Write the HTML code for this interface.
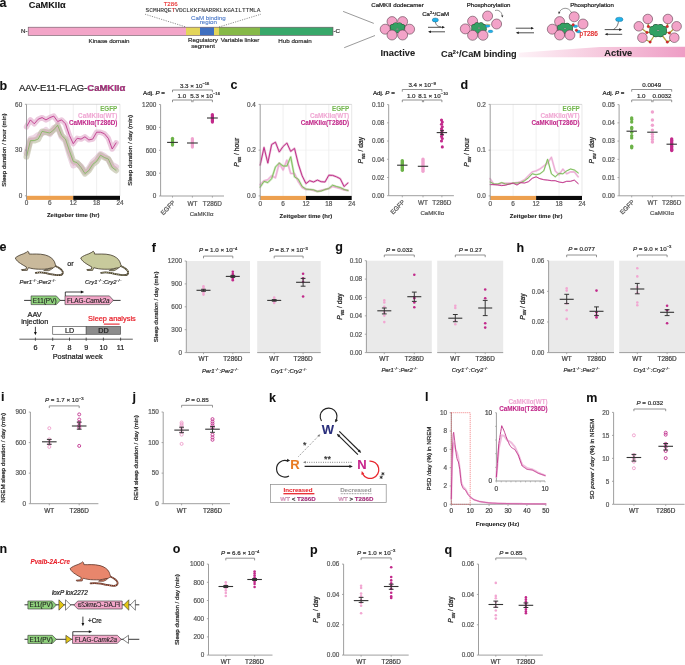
<!DOCTYPE html>
<html><head><meta charset="utf-8"><title>Figure</title>
<style>
html,body{margin:0;padding:0;background:#fff;}
body{width:685px;height:665px;overflow:hidden;}
svg{display:block;font-family:"Liberation Sans",sans-serif;will-change:transform;}
</style></head><body>
<svg width="685" height="665" viewBox="0 0 685 665">
<rect x="0" y="0" width="685" height="665" fill="#fff"/>
<text x="-0.60" y="6.80" font-size="12.5" font-weight="bold" fill="#111" stroke="#111" stroke-width="0.08">a</text>
<text x="28.80" y="7.60" font-size="9.2" font-weight="bold" fill="#111" stroke="#111" stroke-width="0.08">CaMKIIα</text>
<rect x="28.20" y="27.20" width="157.80" height="8.20" fill="#f3a5c8" stroke="none" stroke-width="0.8"/>
<rect x="186.00" y="27.20" width="14.00" height="8.20" fill="#e3d55a" stroke="none" stroke-width="0.8"/>
<rect x="200.00" y="27.20" width="14.00" height="8.20" fill="#3f6fc0" stroke="none" stroke-width="0.8"/>
<rect x="214.00" y="27.20" width="5.00" height="8.20" fill="#e3d55a" stroke="none" stroke-width="0.8"/>
<rect x="219.00" y="27.20" width="41.00" height="8.20" fill="#86b948" stroke="none" stroke-width="0.8"/>
<rect x="260.00" y="27.20" width="73.00" height="8.20" fill="#38a86a" stroke="none" stroke-width="0.8"/>
<rect x="28.20" y="27.20" width="304.80" height="8.20" fill="none" stroke="#6b5560" stroke-width="0.6"/>
<text x="27.60" y="33.30" font-size="6.2" text-anchor="end" fill="#333" stroke="#333" stroke-width="0.22">N-</text>
<text x="333.40" y="33.30" font-size="6.2" fill="#333" stroke="#333" stroke-width="0.22">-C</text>
<text x="109.00" y="42.60" font-size="6.2" text-anchor="middle" fill="#333" stroke="#333" stroke-width="0.22">Kinase domain</text>
<text x="203.00" y="42.00" font-size="6.2" text-anchor="middle" fill="#333" stroke="#333" stroke-width="0.22">Regulatory</text>
<text x="203.00" y="48.30" font-size="6.2" text-anchor="middle" fill="#333" stroke="#333" stroke-width="0.22">segment</text>
<text x="240.00" y="42.00" font-size="6.2" text-anchor="middle" fill="#333" stroke="#333" stroke-width="0.22">Variable linker</text>
<text x="295.00" y="42.60" font-size="6.2" text-anchor="middle" fill="#333" stroke="#333" stroke-width="0.22">Hub domain</text>
<g transform="translate(145.5,11.8) scale(1,0.86)">
<text x="0.00" y="0.00" font-size="6.2" font-family="Liberation Mono" fill="#333" stroke="#333" stroke-width="0.1">SCMHRQE<tspan fill="#e02020">T</tspan>VDCLKKFNARRKLKGAILTTMLA</text>
</g>
<text x="170.60" y="6.40" font-size="6.1" text-anchor="middle" fill="#e82828" stroke="#e82828" stroke-width="0.1">T286</text>
<text x="208.40" y="19.60" font-size="6.2" text-anchor="middle" fill="#4a78c8" stroke="#4a78c8" stroke-width="0.1">CaM binding</text>
<text x="208.40" y="24.40" font-size="6.2" text-anchor="middle" fill="#4a78c8" stroke="#4a78c8" stroke-width="0.1">region</text>
<line x1="145.00" y1="14.20" x2="186.00" y2="27.00" stroke="#444" stroke-width="0.6" stroke-dasharray="1.2 1.2"/>
<line x1="219.00" y1="27.00" x2="261.00" y2="14.20" stroke="#444" stroke-width="0.6" stroke-dasharray="1.2 1.2"/>
<line x1="343.10" y1="11.40" x2="373.80" y2="23.40" stroke="#555" stroke-width="0.6"/>
<line x1="344.20" y1="47.70" x2="375.00" y2="35.50" stroke="#555" stroke-width="0.6"/>
<defs><linearGradient id="wg" x1="0" x2="1" y1="0" y2="0"><stop offset="0" stop-color="#fdf2f7"/><stop offset="0.5" stop-color="#f6c8dd"/><stop offset="1" stop-color="#ee9dc5"/></linearGradient></defs>
<path d="M518.8,52.8 L600,47.0 L685,46.8 L685,57.2 L518.8,57.2 Z" fill="url(#wg)" stroke="none" stroke-width="0.8"/>
<text x="397.50" y="7.20" font-size="6.1" text-anchor="middle" fill="#222" stroke="#222" stroke-width="0.22">CaMKII dodecamer</text>
<text x="397.80" y="55.90" font-size="9.3" text-anchor="middle" font-weight="bold" fill="#222" stroke="#222" stroke-width="0.08">Inactive</text>
<text x="441.00" y="57.00" font-size="9.2" font-weight="bold" fill="#222" stroke="#222" stroke-width="0.08">Ca<tspan dy="-3" font-size="5.5">2+</tspan><tspan dy="3">/CaM binding</tspan></text>
<text x="618.30" y="55.90" font-size="9.3" text-anchor="middle" font-weight="bold" fill="#222" stroke="#222" stroke-width="0.08">Active</text>
<text x="488.60" y="7.00" font-size="6.1" text-anchor="middle" fill="#222" stroke="#222" stroke-width="0.22">Phosphorylation</text>
<text x="592.00" y="6.60" font-size="6.1" text-anchor="middle" fill="#222" stroke="#222" stroke-width="0.22">Phosphorylation</text>
<text x="422.20" y="16.00" font-size="6.1" fill="#222" stroke="#222" stroke-width="0.22">Ca<tspan dy="-2.2" font-size="4">2+</tspan><tspan dy="2.2">/CaM</tspan></text>
<text x="579.60" y="35.80" font-size="6.4" fill="#e02020" stroke="#e02020" stroke-width="0.22">pT286</text>
<line x1="428.00" y1="27.30" x2="443.80" y2="27.30" stroke="#222" stroke-width="0.8"/>
<path d="M445.00,27.30 L442.00,26.00 L442.00,28.60 Z" fill="#222" stroke="none" stroke-width="0.8"/>
<line x1="429.20" y1="31.80" x2="445.00" y2="31.80" stroke="#222" stroke-width="0.8"/>
<path d="M428.00,31.80 L431.00,30.50 L431.00,33.10 Z" fill="#222" stroke="none" stroke-width="0.8"/>
<line x1="515.80" y1="28.20" x2="532.80" y2="28.20" stroke="#222" stroke-width="0.8"/>
<path d="M534.00,28.20 L531.00,26.90 L531.00,29.50 Z" fill="#222" stroke="none" stroke-width="0.8"/>
<line x1="517.00" y1="32.80" x2="534.00" y2="32.80" stroke="#222" stroke-width="0.8"/>
<path d="M515.80,32.80 L518.80,31.50 L518.80,34.10 Z" fill="#222" stroke="none" stroke-width="0.8"/>
<line x1="604.70" y1="29.60" x2="621.00" y2="29.60" stroke="#222" stroke-width="0.8"/>
<path d="M622.20,29.60 L619.20,28.30 L619.20,30.90 Z" fill="#222" stroke="none" stroke-width="0.8"/>
<line x1="605.90" y1="34.30" x2="622.20" y2="34.30" stroke="#222" stroke-width="0.8"/>
<path d="M604.70,34.30 L607.70,33.00 L607.70,35.60 Z" fill="#222" stroke="none" stroke-width="0.8"/>
<ellipse cx="435.3" cy="20" rx="3.1" ry="2.0" fill="#1fb2ea" stroke="#155a80" stroke-width="0.4"/>
<path d="M435.5,22 C436,25 437,26.5 441,26.8" fill="none" stroke="#222" stroke-width="0.6"/>
<ellipse cx="619.3" cy="19.4" rx="3.7" ry="2.2" fill="#1fb2ea" stroke="#155a80" stroke-width="0.4"/>
<path d="M618.5,21.6 C618,25 616.5,28 613.5,29.4" fill="none" stroke="#222" stroke-width="0.6"/>
<circle cx="392.00" cy="21.60" r="5.00" fill="#f3a3c8" stroke="#4e3542" stroke-width="0.55"/>
<circle cx="402.60" cy="21.60" r="5.00" fill="#f3a3c8" stroke="#4e3542" stroke-width="0.55"/>
<ellipse cx="397.50" cy="28.00" rx="6.80" ry="4.60" fill="#2b4a35"/>
<ellipse cx="402.43" cy="29.20" rx="2.72" ry="2.72" fill="#2b4a35"/>
<ellipse cx="399.54" cy="30.89" rx="2.72" ry="2.72" fill="#2b4a35"/>
<ellipse cx="395.46" cy="30.89" rx="2.72" ry="2.72" fill="#2b4a35"/>
<ellipse cx="392.57" cy="29.20" rx="2.72" ry="2.72" fill="#2b4a35"/>
<ellipse cx="392.57" cy="26.80" rx="2.72" ry="2.72" fill="#2b4a35"/>
<ellipse cx="395.46" cy="25.11" rx="2.72" ry="2.72" fill="#2b4a35"/>
<ellipse cx="399.54" cy="25.11" rx="2.72" ry="2.72" fill="#2b4a35"/>
<ellipse cx="402.43" cy="26.80" rx="2.72" ry="2.72" fill="#2b4a35"/>
<ellipse cx="397.50" cy="28.00" rx="6.35" ry="4.15" fill="#33a063"/>
<ellipse cx="402.43" cy="29.20" rx="2.27" ry="2.27" fill="#33a063"/>
<ellipse cx="399.54" cy="30.89" rx="2.27" ry="2.27" fill="#33a063"/>
<ellipse cx="395.46" cy="30.89" rx="2.27" ry="2.27" fill="#33a063"/>
<ellipse cx="392.57" cy="29.20" rx="2.27" ry="2.27" fill="#33a063"/>
<ellipse cx="392.57" cy="26.80" rx="2.27" ry="2.27" fill="#33a063"/>
<ellipse cx="395.46" cy="25.11" rx="2.27" ry="2.27" fill="#33a063"/>
<ellipse cx="399.54" cy="25.11" rx="2.27" ry="2.27" fill="#33a063"/>
<ellipse cx="402.43" cy="26.80" rx="2.27" ry="2.27" fill="#33a063"/>
<circle cx="385.20" cy="29.20" r="5.00" fill="#f3a3c8" stroke="#4e3542" stroke-width="0.55"/>
<circle cx="409.60" cy="29.20" r="5.00" fill="#f3a3c8" stroke="#4e3542" stroke-width="0.55"/>
<circle cx="392.00" cy="35.00" r="5.00" fill="#f3a3c8" stroke="#4e3542" stroke-width="0.55"/>
<circle cx="402.60" cy="35.00" r="5.00" fill="#f3a3c8" stroke="#4e3542" stroke-width="0.55"/>
<ellipse cx="397.3" cy="29" rx="1.1" ry="0.6" fill="#bbb" stroke="#555" stroke-width="0.3"/>
<circle cx="472.60" cy="21.20" r="5.00" fill="#f3a3c8" stroke="#4e3542" stroke-width="0.55"/>
<ellipse cx="479.00" cy="28.00" rx="6.78" ry="4.68" fill="#2b4a35"/>
<ellipse cx="483.89" cy="29.22" rx="2.76" ry="2.76" fill="#2b4a35"/>
<ellipse cx="481.02" cy="30.95" rx="2.76" ry="2.76" fill="#2b4a35"/>
<ellipse cx="476.98" cy="30.95" rx="2.76" ry="2.76" fill="#2b4a35"/>
<ellipse cx="474.11" cy="29.22" rx="2.76" ry="2.76" fill="#2b4a35"/>
<ellipse cx="474.11" cy="26.78" rx="2.76" ry="2.76" fill="#2b4a35"/>
<ellipse cx="476.98" cy="25.05" rx="2.76" ry="2.76" fill="#2b4a35"/>
<ellipse cx="481.02" cy="25.05" rx="2.76" ry="2.76" fill="#2b4a35"/>
<ellipse cx="483.89" cy="26.78" rx="2.76" ry="2.76" fill="#2b4a35"/>
<ellipse cx="479.00" cy="28.00" rx="6.33" ry="4.23" fill="#33a063"/>
<ellipse cx="483.89" cy="29.22" rx="2.31" ry="2.31" fill="#33a063"/>
<ellipse cx="481.02" cy="30.95" rx="2.31" ry="2.31" fill="#33a063"/>
<ellipse cx="476.98" cy="30.95" rx="2.31" ry="2.31" fill="#33a063"/>
<ellipse cx="474.11" cy="29.22" rx="2.31" ry="2.31" fill="#33a063"/>
<ellipse cx="474.11" cy="26.78" rx="2.31" ry="2.31" fill="#33a063"/>
<ellipse cx="476.98" cy="25.05" rx="2.31" ry="2.31" fill="#33a063"/>
<ellipse cx="481.02" cy="25.05" rx="2.31" ry="2.31" fill="#33a063"/>
<ellipse cx="483.89" cy="26.78" rx="2.31" ry="2.31" fill="#33a063"/>
<ellipse cx="479" cy="28" rx="1.1" ry="0.6" fill="#bbb" stroke="#555" stroke-width="0.3"/>
<circle cx="465.30" cy="28.90" r="5.00" fill="#f3a3c8" stroke="#4e3542" stroke-width="0.55"/>
<circle cx="472.60" cy="35.30" r="5.00" fill="#f3a3c8" stroke="#4e3542" stroke-width="0.55"/>
<circle cx="483.00" cy="35.30" r="5.00" fill="#f3a3c8" stroke="#4e3542" stroke-width="0.55"/>
<circle cx="487.60" cy="16.00" r="5.00" fill="#f3a3c8" stroke="#4e3542" stroke-width="0.55"/>
<circle cx="496.60" cy="24.00" r="5.00" fill="#f3a3c8" stroke="#4e3542" stroke-width="0.55"/>
<ellipse cx="487.6" cy="26.0" rx="2.4" ry="1.3" fill="#1fb2ea" stroke="#155a80" stroke-width="0.3"/>
<ellipse cx="490.5" cy="31.4" rx="2.4" ry="1.3" fill="#1fb2ea" stroke="#155a80" stroke-width="0.3"/>
<line x1="486.00" y1="24.20" x2="490.50" y2="24.60" stroke="#b8a040" stroke-width="0.6"/>
<path d="M495,10.5 C499,9.5 502,12 502.3,16.6" fill="none" stroke="#333" stroke-width="0.5"/>
<path d="M502.3,17.6 L501.2,15.4 L503.4,15.6 Z" fill="#333" stroke="none" stroke-width="0.8"/>
<circle cx="559.60" cy="21.60" r="5.00" fill="#f3a3c8" stroke="#4e3542" stroke-width="0.55"/>
<ellipse cx="565.00" cy="28.50" rx="6.96" ry="4.76" fill="#2b4a35"/>
<ellipse cx="570.03" cy="29.74" rx="2.80" ry="2.80" fill="#2b4a35"/>
<ellipse cx="567.08" cy="31.50" rx="2.80" ry="2.80" fill="#2b4a35"/>
<ellipse cx="562.92" cy="31.50" rx="2.80" ry="2.80" fill="#2b4a35"/>
<ellipse cx="559.97" cy="29.74" rx="2.80" ry="2.80" fill="#2b4a35"/>
<ellipse cx="559.97" cy="27.26" rx="2.80" ry="2.80" fill="#2b4a35"/>
<ellipse cx="562.92" cy="25.50" rx="2.80" ry="2.80" fill="#2b4a35"/>
<ellipse cx="567.08" cy="25.50" rx="2.80" ry="2.80" fill="#2b4a35"/>
<ellipse cx="570.03" cy="27.26" rx="2.80" ry="2.80" fill="#2b4a35"/>
<ellipse cx="565.00" cy="28.50" rx="6.51" ry="4.31" fill="#33a063"/>
<ellipse cx="570.03" cy="29.74" rx="2.35" ry="2.35" fill="#33a063"/>
<ellipse cx="567.08" cy="31.50" rx="2.35" ry="2.35" fill="#33a063"/>
<ellipse cx="562.92" cy="31.50" rx="2.35" ry="2.35" fill="#33a063"/>
<ellipse cx="559.97" cy="29.74" rx="2.35" ry="2.35" fill="#33a063"/>
<ellipse cx="559.97" cy="27.26" rx="2.35" ry="2.35" fill="#33a063"/>
<ellipse cx="562.92" cy="25.50" rx="2.35" ry="2.35" fill="#33a063"/>
<ellipse cx="567.08" cy="25.50" rx="2.35" ry="2.35" fill="#33a063"/>
<ellipse cx="570.03" cy="27.26" rx="2.35" ry="2.35" fill="#33a063"/>
<ellipse cx="565" cy="28.5" rx="1.1" ry="0.6" fill="#bbb" stroke="#555" stroke-width="0.3"/>
<circle cx="552.30" cy="29.20" r="5.00" fill="#f3a3c8" stroke="#4e3542" stroke-width="0.55"/>
<circle cx="559.60" cy="35.00" r="5.00" fill="#f3a3c8" stroke="#4e3542" stroke-width="0.55"/>
<circle cx="569.90" cy="35.00" r="5.00" fill="#f3a3c8" stroke="#4e3542" stroke-width="0.55"/>
<circle cx="574.20" cy="16.80" r="5.00" fill="#f3a3c8" stroke="#4e3542" stroke-width="0.55"/>
<circle cx="583.00" cy="24.00" r="5.00" fill="#f3a3c8" stroke="#4e3542" stroke-width="0.55"/>
<ellipse cx="575.4" cy="26.2" rx="2.3" ry="1.3" fill="#1fb2ea" stroke="#155a80" stroke-width="0.3"/>
<ellipse cx="578.4" cy="31.6" rx="2.3" ry="1.3" fill="#1fb2ea" stroke="#155a80" stroke-width="0.3"/>
<circle cx="573.20" cy="24.80" r="1.25" fill="#e3262b" stroke="#7a1010" stroke-width="0.3"/>
<circle cx="576.40" cy="30.20" r="1.25" fill="#e3262b" stroke="#7a1010" stroke-width="0.3"/>
<path d="M571.5,12.8 C569,6.5 561,7 559,13" fill="none" stroke="#333" stroke-width="0.5"/>
<path d="M558.8,14.2 L558.2,11.6 L560.3,12.4 Z" fill="#333" stroke="none" stroke-width="0.8"/>
<line x1="647.80" y1="19.00" x2="648.30" y2="26.60" stroke="#b3a43c" stroke-width="1.3"/>
<line x1="648.30" y1="26.60" x2="652.00" y2="27.80" stroke="#b3a43c" stroke-width="1.3"/>
<line x1="638.80" y1="26.30" x2="646.90" y2="32.50" stroke="#b3a43c" stroke-width="1.3"/>
<line x1="646.90" y1="32.50" x2="650.60" y2="32.20" stroke="#b3a43c" stroke-width="1.3"/>
<line x1="642.40" y1="37.70" x2="650.10" y2="42.00" stroke="#b3a43c" stroke-width="1.3"/>
<line x1="650.10" y1="42.00" x2="654.00" y2="36.00" stroke="#b3a43c" stroke-width="1.3"/>
<line x1="667.90" y1="19.00" x2="667.30" y2="26.50" stroke="#b3a43c" stroke-width="1.3"/>
<line x1="667.30" y1="26.50" x2="664.20" y2="27.80" stroke="#b3a43c" stroke-width="1.3"/>
<line x1="676.60" y1="26.30" x2="669.40" y2="32.90" stroke="#b3a43c" stroke-width="1.3"/>
<line x1="669.40" y1="32.90" x2="665.80" y2="32.20" stroke="#b3a43c" stroke-width="1.3"/>
<line x1="674.30" y1="37.70" x2="667.30" y2="42.10" stroke="#b3a43c" stroke-width="1.3"/>
<line x1="667.30" y1="42.10" x2="662.60" y2="36.00" stroke="#b3a43c" stroke-width="1.3"/>
<circle cx="647.80" cy="19.00" r="4.80" fill="#f3a3c8" stroke="#4e3542" stroke-width="0.55"/>
<circle cx="638.80" cy="26.30" r="4.80" fill="#f3a3c8" stroke="#4e3542" stroke-width="0.55"/>
<circle cx="642.40" cy="37.70" r="4.80" fill="#f3a3c8" stroke="#4e3542" stroke-width="0.55"/>
<circle cx="667.90" cy="19.00" r="4.80" fill="#f3a3c8" stroke="#4e3542" stroke-width="0.55"/>
<circle cx="676.60" cy="26.30" r="4.80" fill="#f3a3c8" stroke="#4e3542" stroke-width="0.55"/>
<circle cx="674.30" cy="37.70" r="4.80" fill="#f3a3c8" stroke="#4e3542" stroke-width="0.55"/>
<ellipse cx="658.10" cy="30.60" rx="7.65" ry="5.45" fill="#2b4a35"/>
<ellipse cx="663.62" cy="32.04" rx="3.18" ry="3.18" fill="#2b4a35"/>
<ellipse cx="660.38" cy="34.08" rx="3.18" ry="3.18" fill="#2b4a35"/>
<ellipse cx="655.82" cy="34.08" rx="3.18" ry="3.18" fill="#2b4a35"/>
<ellipse cx="652.58" cy="32.04" rx="3.18" ry="3.18" fill="#2b4a35"/>
<ellipse cx="652.58" cy="29.16" rx="3.18" ry="3.18" fill="#2b4a35"/>
<ellipse cx="655.82" cy="27.12" rx="3.18" ry="3.18" fill="#2b4a35"/>
<ellipse cx="660.38" cy="27.12" rx="3.18" ry="3.18" fill="#2b4a35"/>
<ellipse cx="663.62" cy="29.16" rx="3.18" ry="3.18" fill="#2b4a35"/>
<ellipse cx="658.10" cy="30.60" rx="7.20" ry="5.00" fill="#33a063"/>
<ellipse cx="663.62" cy="32.04" rx="2.73" ry="2.73" fill="#33a063"/>
<ellipse cx="660.38" cy="34.08" rx="2.73" ry="2.73" fill="#33a063"/>
<ellipse cx="655.82" cy="34.08" rx="2.73" ry="2.73" fill="#33a063"/>
<ellipse cx="652.58" cy="32.04" rx="2.73" ry="2.73" fill="#33a063"/>
<ellipse cx="652.58" cy="29.16" rx="2.73" ry="2.73" fill="#33a063"/>
<ellipse cx="655.82" cy="27.12" rx="2.73" ry="2.73" fill="#33a063"/>
<ellipse cx="660.38" cy="27.12" rx="2.73" ry="2.73" fill="#33a063"/>
<ellipse cx="663.62" cy="29.16" rx="2.73" ry="2.73" fill="#33a063"/>
<ellipse cx="658.1" cy="30.5" rx="1.2" ry="0.6" fill="#bbb" stroke="#555" stroke-width="0.3"/>
<circle cx="648.30" cy="26.60" r="1.25" fill="#e3262b" stroke="#7a1010" stroke-width="0.3"/>
<circle cx="646.90" cy="32.50" r="1.25" fill="#e3262b" stroke="#7a1010" stroke-width="0.3"/>
<circle cx="650.10" cy="42.00" r="1.25" fill="#e3262b" stroke="#7a1010" stroke-width="0.3"/>
<circle cx="667.30" cy="26.50" r="1.25" fill="#e3262b" stroke="#7a1010" stroke-width="0.3"/>
<circle cx="669.40" cy="32.90" r="1.25" fill="#e3262b" stroke="#7a1010" stroke-width="0.3"/>
<circle cx="667.30" cy="42.10" r="1.25" fill="#e3262b" stroke="#7a1010" stroke-width="0.3"/>
<text x="-0.40" y="89.60" font-size="12.5" font-weight="bold" fill="#111" stroke="#111" stroke-width="0.08">b</text>
<text x="19.00" y="90.80" font-size="9.5" fill="#222" stroke="#222" stroke-width="0.22">AAV-E11-FLAG-<tspan font-weight="bold" fill="#c22a8b">CaMKIIα</tspan></text>
<line x1="49.88" y1="104.30" x2="49.88" y2="195.80" stroke="#e4e4e4" stroke-width="0.6"/>
<line x1="73.25" y1="104.30" x2="73.25" y2="195.80" stroke="#e4e4e4" stroke-width="0.6"/>
<line x1="96.62" y1="104.30" x2="96.62" y2="195.80" stroke="#e4e4e4" stroke-width="0.6"/>
<line x1="120.00" y1="104.30" x2="120.00" y2="195.80" stroke="#d8d8d8" stroke-width="0.6"/>
<line x1="26.50" y1="104.30" x2="120.00" y2="104.30" stroke="#bdbdbd" stroke-width="0.6"/>
<line x1="26.50" y1="150.05" x2="120.00" y2="150.05" stroke="#ececec" stroke-width="0.6"/>
<polyline points="26.50,153.00 30.40,139.00 34.29,138.00 38.19,135.00 42.08,133.50 45.98,130.00 49.88,134.00 53.77,128.00 57.67,127.00 61.56,137.00 65.46,141.00 69.35,154.00 73.25,165.50 77.15,163.50 81.04,166.50 84.94,172.00 88.83,168.50 92.73,162.00 96.62,158.50 100.52,154.00 104.42,156.00 108.31,159.50 112.21,165.00 116.10,167.00" fill="none" stroke="#dcb4cc" stroke-width="6.0" stroke-linejoin="round" stroke-linecap="round" stroke-opacity="0.55"/>
<polyline points="26.50,156.70 30.40,140.60 34.29,140.60 38.19,139.10 42.08,131.40 45.98,132.20 49.88,133.00 53.77,129.90 57.67,125.30 61.56,135.30 65.46,139.10 69.35,150.60 73.25,161.30 77.15,162.80 81.04,167.40 84.94,173.60 88.83,170.50 92.73,164.40 96.62,161.30 100.52,155.20 104.42,157.50 108.31,159.00 112.21,167.40 116.10,170.50" fill="none" stroke="#b3b394" stroke-width="6.0" stroke-linejoin="round" stroke-linecap="round" stroke-opacity="0.55"/>
<polyline points="26.50,126.80 30.40,119.90 34.29,123.80 38.19,119.20 42.08,117.60 45.98,119.90 49.88,117.60 53.77,116.10 57.67,121.50 61.56,119.90 65.46,123.80 69.35,135.30 73.25,143.70 77.15,138.30 81.04,139.10 84.94,136.80 88.83,139.90 92.73,139.10 96.62,132.20 100.52,132.20 104.42,133.70 108.31,138.30 112.21,149.00 116.10,142.90" fill="none" stroke="#dc9cc3" stroke-width="5.4" stroke-linejoin="round" stroke-linecap="round" stroke-opacity="0.55"/>
<polyline points="26.50,153.00 30.40,139.00 34.29,138.00 38.19,135.00 42.08,133.50 45.98,130.00 49.88,134.00 53.77,128.00 57.67,127.00 61.56,137.00 65.46,141.00 69.35,154.00 73.25,165.50 77.15,163.50 81.04,166.50 84.94,172.00 88.83,168.50 92.73,162.00 96.62,158.50 100.52,154.00 104.42,156.00 108.31,159.50 112.21,165.00 116.10,167.00" fill="none" stroke="#e9a6cf" stroke-width="0.7" stroke-linejoin="round" stroke-linecap="round"/>
<polyline points="26.50,156.70 30.40,140.60 34.29,140.60 38.19,139.10 42.08,131.40 45.98,132.20 49.88,133.00 53.77,129.90 57.67,125.30 61.56,135.30 65.46,139.10 69.35,150.60 73.25,161.30 77.15,162.80 81.04,167.40 84.94,173.60 88.83,170.50 92.73,164.40 96.62,161.30 100.52,155.20 104.42,157.50 108.31,159.00 112.21,167.40 116.10,170.50" fill="none" stroke="#72b84e" stroke-width="0.7" stroke-linejoin="round" stroke-linecap="round"/>
<polyline points="26.50,126.80 30.40,119.90 34.29,123.80 38.19,119.20 42.08,117.60 45.98,119.90 49.88,117.60 53.77,116.10 57.67,121.50 61.56,119.90 65.46,123.80 69.35,135.30 73.25,143.70 77.15,138.30 81.04,139.10 84.94,136.80 88.83,139.90 92.73,139.10 96.62,132.20 100.52,132.20 104.42,133.70 108.31,138.30 112.21,149.00 116.10,142.90" fill="none" stroke="#c0388c" stroke-width="0.9" stroke-linejoin="round" stroke-linecap="round"/>
<rect x="26.50" y="195.80" width="46.75" height="4.10" fill="#eda04f" stroke="none" stroke-width="0.8"/>
<rect x="73.25" y="195.80" width="46.75" height="4.10" fill="#0a0a0a" stroke="none" stroke-width="0.8"/>
<line x1="26.50" y1="104.30" x2="26.50" y2="199.90" stroke="#949494" stroke-width="0.9"/>
<line x1="24.90" y1="104.30" x2="26.50" y2="104.30" stroke="#949494" stroke-width="0.8"/>
<text x="22.20" y="106.60" font-size="6.4" text-anchor="end" fill="#5a5a5a" stroke="#5a5a5a" stroke-width="0.22">60</text>
<line x1="24.90" y1="150.05" x2="26.50" y2="150.05" stroke="#949494" stroke-width="0.8"/>
<text x="22.20" y="152.35" font-size="6.4" text-anchor="end" fill="#5a5a5a" stroke="#5a5a5a" stroke-width="0.22">30</text>
<line x1="24.90" y1="195.80" x2="26.50" y2="195.80" stroke="#949494" stroke-width="0.8"/>
<text x="22.20" y="198.10" font-size="6.4" text-anchor="end" fill="#5a5a5a" stroke="#5a5a5a" stroke-width="0.22">0</text>
<text x="26.50" y="205.40" font-size="6.4" text-anchor="middle" fill="#5a5a5a" stroke="#5a5a5a" stroke-width="0.22">0</text>
<text x="49.88" y="205.40" font-size="6.4" text-anchor="middle" fill="#5a5a5a" stroke="#5a5a5a" stroke-width="0.22">6</text>
<text x="73.25" y="205.40" font-size="6.4" text-anchor="middle" fill="#5a5a5a" stroke="#5a5a5a" stroke-width="0.22">12</text>
<text x="96.62" y="205.40" font-size="6.4" text-anchor="middle" fill="#5a5a5a" stroke="#5a5a5a" stroke-width="0.22">18</text>
<text x="120.00" y="205.40" font-size="6.4" text-anchor="middle" fill="#5a5a5a" stroke="#5a5a5a" stroke-width="0.22">24</text>
<text x="73.25" y="217.40" font-size="6.0" text-anchor="middle" font-weight="bold" fill="#222" stroke="#222" stroke-width="0.08">Zeitgeber time (hr)</text>
<text x="117.30" y="110.70" font-size="6.3" text-anchor="end" font-weight="bold" fill="#76b852" stroke="#76b852" stroke-width="0.08">EGFP</text>
<text x="117.30" y="117.65" font-size="6.3" text-anchor="end" font-weight="bold" fill="#f0a8d4" stroke="#f0a8d4" stroke-width="0.08">CaMKIIα(WT)</text>
<text x="117.30" y="124.60" font-size="6.3" text-anchor="end" font-weight="bold" fill="#c22a8b" stroke="#c22a8b" stroke-width="0.08">CaMKIIα(T286D)</text>
<text x="6.00" y="150.00" font-size="6.2" text-anchor="middle" fill="#222" transform="rotate(-90 6.00 150.00)" stroke="#222" stroke-width="0.22">Sleep duration / hour (min)</text>
<line x1="160.60" y1="104.50" x2="160.60" y2="196.00" stroke="#949494" stroke-width="0.9"/>
<line x1="159.00" y1="104.50" x2="160.60" y2="104.50" stroke="#949494" stroke-width="0.8"/>
<text x="156.30" y="106.80" font-size="6.4" text-anchor="end" fill="#5a5a5a" stroke="#5a5a5a" stroke-width="0.22">1200</text>
<line x1="159.00" y1="127.40" x2="160.60" y2="127.40" stroke="#949494" stroke-width="0.8"/>
<text x="156.30" y="129.70" font-size="6.4" text-anchor="end" fill="#5a5a5a" stroke="#5a5a5a" stroke-width="0.22">900</text>
<line x1="159.00" y1="150.30" x2="160.60" y2="150.30" stroke="#949494" stroke-width="0.8"/>
<text x="156.30" y="152.60" font-size="6.4" text-anchor="end" fill="#5a5a5a" stroke="#5a5a5a" stroke-width="0.22">600</text>
<line x1="159.00" y1="173.20" x2="160.60" y2="173.20" stroke="#949494" stroke-width="0.8"/>
<text x="156.30" y="175.50" font-size="6.4" text-anchor="end" fill="#5a5a5a" stroke="#5a5a5a" stroke-width="0.22">300</text>
<line x1="159.00" y1="196.00" x2="160.60" y2="196.00" stroke="#949494" stroke-width="0.8"/>
<text x="156.30" y="198.30" font-size="6.4" text-anchor="end" fill="#5a5a5a" stroke="#5a5a5a" stroke-width="0.22">0</text>
<line x1="160.60" y1="196.00" x2="224.00" y2="196.00" stroke="#949494" stroke-width="0.9"/>
<line x1="172.50" y1="196.00" x2="172.50" y2="197.60" stroke="#949494" stroke-width="0.8"/>
<line x1="192.40" y1="196.00" x2="192.40" y2="197.60" stroke="#949494" stroke-width="0.8"/>
<line x1="212.40" y1="196.00" x2="212.40" y2="197.60" stroke="#949494" stroke-width="0.8"/>
<rect x="170.90" y="136.70" width="3.20" height="10.00" fill="#6cb248" stroke="none" stroke-width="0.8" rx="1.60"/>
<rect x="190.80" y="137.00" width="3.20" height="11.70" fill="#f0a3cf" stroke="none" stroke-width="0.8" rx="1.60"/>
<rect x="210.80" y="113.00" width="3.20" height="10.70" fill="#c22a8b" stroke="none" stroke-width="0.8" rx="1.60"/>
<line x1="167.10" y1="142.40" x2="177.90" y2="142.40" stroke="#333" stroke-width="1.1"/>
<line x1="187.00" y1="143.00" x2="197.80" y2="143.00" stroke="#333" stroke-width="1.1"/>
<line x1="207.00" y1="118.00" x2="217.80" y2="118.00" stroke="#333" stroke-width="1.1"/>
<text x="143.10" y="94.90" font-size="6.2" fill="#222" stroke="#222" stroke-width="0.22">Adj. <tspan font-style="italic">P</tspan> =</text>
<path d="M172.50,92.20 L172.50,90.00 L212.40,90.00 L212.40,92.20" fill="none" stroke="#777" stroke-width="0.8"/>
<text x="194.60" y="87.70" font-size="6.2" text-anchor="middle" fill="#333" stroke="#333" stroke-width="0.22">3.3 × 10<tspan dy="-2.3" font-size="4.0">−16</tspan></text>
<path d="M172.50,102.20 L172.50,100.00 L191.80,100.00 L191.80,102.20" fill="none" stroke="#777" stroke-width="0.8"/>
<text x="181.80" y="97.60" font-size="6.2" text-anchor="middle" fill="#333" stroke="#333" stroke-width="0.22">1.0</text>
<path d="M193.00,102.20 L193.00,100.00 L212.40,100.00 L212.40,102.20" fill="none" stroke="#777" stroke-width="0.8"/>
<text x="205.20" y="97.60" font-size="6.2" text-anchor="middle" fill="#333" stroke="#333" stroke-width="0.22">5.3 × 10<tspan dy="-2.3" font-size="4.2">−16</tspan></text>
<text x="175.50" y="203.10" font-size="6.4" text-anchor="end" fill="#555" transform="rotate(-45 175.50 203.10)" stroke="#555" stroke-width="0.22">EGFP</text>
<text x="192.40" y="205.80" font-size="6.4" text-anchor="middle" fill="#555" stroke="#555" stroke-width="0.22">WT</text>
<text x="212.40" y="205.80" font-size="6.4" text-anchor="middle" fill="#555" stroke="#555" stroke-width="0.22">T286D</text>
<text x="201.60" y="215.70" font-size="6.1" text-anchor="middle" fill="#555" stroke="#555" stroke-width="0.22">CaMKIIα</text>
<text x="132.00" y="150.30" font-size="6.2" text-anchor="middle" fill="#222" transform="rotate(-90 132.00 150.30)" stroke="#222" stroke-width="0.22">Sleep duration / day (min)</text>
<text x="230.60" y="88.80" font-size="12.5" font-weight="bold" fill="#111" stroke="#111" stroke-width="0.08">c</text>
<line x1="283.07" y1="104.40" x2="283.07" y2="195.90" stroke="#e4e4e4" stroke-width="0.6"/>
<line x1="305.95" y1="104.40" x2="305.95" y2="195.90" stroke="#e4e4e4" stroke-width="0.6"/>
<line x1="328.82" y1="104.40" x2="328.82" y2="195.90" stroke="#e4e4e4" stroke-width="0.6"/>
<line x1="351.70" y1="104.40" x2="351.70" y2="195.90" stroke="#d8d8d8" stroke-width="0.6"/>
<line x1="260.20" y1="104.40" x2="351.70" y2="104.40" stroke="#bdbdbd" stroke-width="0.6"/>
<line x1="260.20" y1="150.15" x2="351.70" y2="150.15" stroke="#ececec" stroke-width="0.6"/>
<polyline points="260.20,184.60 264.01,180.70 267.82,179.70 271.64,175.80 275.45,177.80 279.26,163.10 283.07,170.00 286.89,160.20 290.70,173.50 294.51,173.50 298.32,181.70 302.14,187.50 305.95,189.50 309.76,189.50 313.57,190.40 317.39,191.40 321.20,190.40 325.01,189.50 328.82,188.50 332.64,186.50 336.45,187.50 340.26,188.50 344.07,189.90 347.89,190.40" fill="none" stroke="#eaa2cf" stroke-width="2.2" stroke-linejoin="round" stroke-linecap="round" stroke-opacity="0.55"/>
<polyline points="260.20,187.10 264.01,181.30 267.82,182.60 271.64,178.70 275.45,167.00 279.26,163.10 283.07,166.00 286.89,166.00 290.70,156.80 294.51,176.80 298.32,179.30 302.14,186.50 305.95,189.10 309.76,189.50 313.57,189.90 317.39,191.40 321.20,191.00 325.01,189.50 328.82,188.50 332.64,185.20 336.45,186.50 340.26,187.50 344.07,189.50 347.89,190.50" fill="none" stroke="#a8d08a" stroke-width="2.2" stroke-linejoin="round" stroke-linecap="round" stroke-opacity="0.55"/>
<polyline points="260.20,165.00 264.01,147.40 267.82,163.10 271.64,144.50 275.45,142.20 279.26,152.00 283.07,146.50 286.89,143.00 290.70,151.40 294.51,148.40 298.32,164.10 302.14,175.80 305.95,183.60 309.76,180.70 313.57,182.00 317.39,180.10 321.20,181.70 325.01,182.00 328.82,175.20 332.64,175.40 336.45,176.80 340.26,178.70 344.07,186.50 347.89,183.00" fill="none" stroke="#d98ab8" stroke-width="2.2" stroke-linejoin="round" stroke-linecap="round" stroke-opacity="0.55"/>
<polyline points="260.20,184.60 264.01,180.70 267.82,179.70 271.64,175.80 275.45,177.80 279.26,163.10 283.07,170.00 286.89,160.20 290.70,173.50 294.51,173.50 298.32,181.70 302.14,187.50 305.95,189.50 309.76,189.50 313.57,190.40 317.39,191.40 321.20,190.40 325.01,189.50 328.82,188.50 332.64,186.50 336.45,187.50 340.26,188.50 344.07,189.90 347.89,190.40" fill="none" stroke="#eaa2cf" stroke-width="0.8" stroke-linejoin="round" stroke-linecap="round"/>
<polyline points="260.20,187.10 264.01,181.30 267.82,182.60 271.64,178.70 275.45,167.00 279.26,163.10 283.07,166.00 286.89,166.00 290.70,156.80 294.51,176.80 298.32,179.30 302.14,186.50 305.95,189.10 309.76,189.50 313.57,189.90 317.39,191.40 321.20,191.00 325.01,189.50 328.82,188.50 332.64,185.20 336.45,186.50 340.26,187.50 344.07,189.50 347.89,190.50" fill="none" stroke="#6fb84a" stroke-width="0.8" stroke-linejoin="round" stroke-linecap="round"/>
<polyline points="260.20,165.00 264.01,147.40 267.82,163.10 271.64,144.50 275.45,142.20 279.26,152.00 283.07,146.50 286.89,143.00 290.70,151.40 294.51,148.40 298.32,164.10 302.14,175.80 305.95,183.60 309.76,180.70 313.57,182.00 317.39,180.10 321.20,181.70 325.01,182.00 328.82,175.20 332.64,175.40 336.45,176.80 340.26,178.70 344.07,186.50 347.89,183.00" fill="none" stroke="#c0328a" stroke-width="1.0" stroke-linejoin="round" stroke-linecap="round"/>
<rect x="260.20" y="195.90" width="45.75" height="4.10" fill="#eda04f" stroke="none" stroke-width="0.8"/>
<rect x="305.95" y="195.90" width="45.75" height="4.10" fill="#0a0a0a" stroke="none" stroke-width="0.8"/>
<line x1="260.20" y1="104.40" x2="260.20" y2="200.00" stroke="#949494" stroke-width="0.9"/>
<line x1="258.60" y1="104.40" x2="260.20" y2="104.40" stroke="#949494" stroke-width="0.8"/>
<text x="255.90" y="106.70" font-size="6.4" text-anchor="end" fill="#5a5a5a" stroke="#5a5a5a" stroke-width="0.22">0.4</text>
<line x1="258.60" y1="150.15" x2="260.20" y2="150.15" stroke="#949494" stroke-width="0.8"/>
<text x="255.90" y="152.45" font-size="6.4" text-anchor="end" fill="#5a5a5a" stroke="#5a5a5a" stroke-width="0.22">0.2</text>
<line x1="258.60" y1="195.90" x2="260.20" y2="195.90" stroke="#949494" stroke-width="0.8"/>
<text x="255.90" y="198.20" font-size="6.4" text-anchor="end" fill="#5a5a5a" stroke="#5a5a5a" stroke-width="0.22">0.0</text>
<text x="260.20" y="205.50" font-size="6.4" text-anchor="middle" fill="#5a5a5a" stroke="#5a5a5a" stroke-width="0.22">0</text>
<text x="283.07" y="205.50" font-size="6.4" text-anchor="middle" fill="#5a5a5a" stroke="#5a5a5a" stroke-width="0.22">6</text>
<text x="305.95" y="205.50" font-size="6.4" text-anchor="middle" fill="#5a5a5a" stroke="#5a5a5a" stroke-width="0.22">12</text>
<text x="328.82" y="205.50" font-size="6.4" text-anchor="middle" fill="#5a5a5a" stroke="#5a5a5a" stroke-width="0.22">18</text>
<text x="351.70" y="205.50" font-size="6.4" text-anchor="middle" fill="#5a5a5a" stroke="#5a5a5a" stroke-width="0.22">24</text>
<text x="305.95" y="217.50" font-size="6.0" text-anchor="middle" font-weight="bold" fill="#222" stroke="#222" stroke-width="0.08">Zeitgeber time (hr)</text>
<text x="349.10" y="110.90" font-size="6.3" text-anchor="end" font-weight="bold" fill="#76b852" stroke="#76b852" stroke-width="0.08">EGFP</text>
<text x="349.10" y="117.85" font-size="6.3" text-anchor="end" font-weight="bold" fill="#f0a8d4" stroke="#f0a8d4" stroke-width="0.08">CaMKIIα(WT)</text>
<text x="349.10" y="124.80" font-size="6.3" text-anchor="end" font-weight="bold" fill="#c22a8b" stroke="#c22a8b" stroke-width="0.08">CaMKIIα(T286D)</text>
<text x="239.40" y="152.30" font-size="6.7" text-anchor="middle" fill="#222" transform="rotate(-90 239.40 152.30)" stroke="#222" stroke-width="0.22"><tspan font-style="italic">P</tspan><tspan font-size="4.6" dy="1.6">ws</tspan><tspan dy="-1.6"> / hour</tspan></text>
<line x1="388.70" y1="104.60" x2="388.70" y2="195.70" stroke="#949494" stroke-width="0.9"/>
<line x1="387.10" y1="104.60" x2="388.70" y2="104.60" stroke="#949494" stroke-width="0.8"/>
<text x="384.40" y="106.90" font-size="6.4" text-anchor="end" fill="#5a5a5a" stroke="#5a5a5a" stroke-width="0.22">0.10</text>
<line x1="387.10" y1="122.82" x2="388.70" y2="122.82" stroke="#949494" stroke-width="0.8"/>
<text x="384.40" y="125.12" font-size="6.4" text-anchor="end" fill="#5a5a5a" stroke="#5a5a5a" stroke-width="0.22">0.08</text>
<line x1="387.10" y1="141.04" x2="388.70" y2="141.04" stroke="#949494" stroke-width="0.8"/>
<text x="384.40" y="143.34" font-size="6.4" text-anchor="end" fill="#5a5a5a" stroke="#5a5a5a" stroke-width="0.22">0.06</text>
<line x1="387.10" y1="159.26" x2="388.70" y2="159.26" stroke="#949494" stroke-width="0.8"/>
<text x="384.40" y="161.56" font-size="6.4" text-anchor="end" fill="#5a5a5a" stroke="#5a5a5a" stroke-width="0.22">0.04</text>
<line x1="387.10" y1="177.48" x2="388.70" y2="177.48" stroke="#949494" stroke-width="0.8"/>
<text x="384.40" y="179.78" font-size="6.4" text-anchor="end" fill="#5a5a5a" stroke="#5a5a5a" stroke-width="0.22">0.02</text>
<line x1="387.10" y1="195.70" x2="388.70" y2="195.70" stroke="#949494" stroke-width="0.8"/>
<text x="384.40" y="198.00" font-size="6.4" text-anchor="end" fill="#5a5a5a" stroke="#5a5a5a" stroke-width="0.22">0.00</text>
<line x1="388.70" y1="195.70" x2="453.90" y2="195.70" stroke="#949494" stroke-width="0.9"/>
<line x1="402.30" y1="195.70" x2="402.30" y2="197.30" stroke="#949494" stroke-width="0.8"/>
<line x1="423.00" y1="195.70" x2="423.00" y2="197.30" stroke="#949494" stroke-width="0.8"/>
<line x1="441.90" y1="195.70" x2="441.90" y2="197.30" stroke="#949494" stroke-width="0.8"/>
<rect x="400.60" y="158.90" width="3.40" height="13.10" fill="#6cb248" stroke="none" stroke-width="0.8" rx="1.70"/>
<rect x="421.30" y="157.40" width="3.40" height="15.60" fill="#f0a3cf" stroke="none" stroke-width="0.8" rx="1.70"/>
<circle cx="441.50" cy="120.00" r="1.55" fill="#c22a8b" stroke="none" stroke-width="0.6"/>
<circle cx="442.30" cy="122.10" r="1.55" fill="#c22a8b" stroke="none" stroke-width="0.6"/>
<circle cx="441.50" cy="124.20" r="1.55" fill="#c22a8b" stroke="none" stroke-width="0.6"/>
<circle cx="442.30" cy="126.70" r="1.55" fill="#c22a8b" stroke="none" stroke-width="0.6"/>
<circle cx="441.50" cy="128.80" r="1.55" fill="#c22a8b" stroke="none" stroke-width="0.6"/>
<circle cx="442.30" cy="130.50" r="1.55" fill="#c22a8b" stroke="none" stroke-width="0.6"/>
<circle cx="441.50" cy="132.60" r="1.55" fill="#c22a8b" stroke="none" stroke-width="0.6"/>
<circle cx="442.30" cy="134.70" r="1.55" fill="#c22a8b" stroke="none" stroke-width="0.6"/>
<circle cx="441.50" cy="136.40" r="1.55" fill="#c22a8b" stroke="none" stroke-width="0.6"/>
<circle cx="442.30" cy="138.50" r="1.55" fill="#c22a8b" stroke="none" stroke-width="0.6"/>
<circle cx="441.50" cy="141.00" r="1.55" fill="#c22a8b" stroke="none" stroke-width="0.6"/>
<circle cx="442.30" cy="146.90" r="1.55" fill="#c22a8b" stroke="none" stroke-width="0.6"/>
<line x1="397.10" y1="165.20" x2="407.50" y2="165.20" stroke="#333" stroke-width="1.1"/>
<line x1="417.80" y1="166.30" x2="428.20" y2="166.30" stroke="#333" stroke-width="1.1"/>
<line x1="436.70" y1="132.60" x2="447.10" y2="132.60" stroke="#333" stroke-width="1.1"/>
<line x1="441.90" y1="130.60" x2="441.90" y2="134.60" stroke="#333" stroke-width="0.9900000000000001"/>
<line x1="440.10" y1="130.60" x2="443.70" y2="130.60" stroke="#333" stroke-width="0.9900000000000001"/>
<line x1="440.10" y1="134.60" x2="443.70" y2="134.60" stroke="#333" stroke-width="0.9900000000000001"/>
<text x="372.90" y="94.70" font-size="6.2" fill="#222" stroke="#222" stroke-width="0.22">Adj. <tspan font-style="italic">P</tspan> =</text>
<path d="M402.30,91.70 L402.30,89.50 L441.90,89.50 L441.90,91.70" fill="none" stroke="#777" stroke-width="0.8"/>
<text x="422.10" y="87.40" font-size="6.2" text-anchor="middle" fill="#333" stroke="#333" stroke-width="0.22">3.4 × 10<tspan dy="-2.3" font-size="4.2">−9</tspan></text>
<path d="M402.30,102.20 L402.30,100.00 L422.40,100.00 L422.40,102.20" fill="none" stroke="#777" stroke-width="0.8"/>
<text x="411.20" y="97.50" font-size="6.2" text-anchor="middle" fill="#333" stroke="#333" stroke-width="0.22">1.0</text>
<path d="M423.60,102.20 L423.60,100.00 L441.90,100.00 L441.90,102.20" fill="none" stroke="#777" stroke-width="0.8"/>
<text x="433.00" y="97.50" font-size="6.2" text-anchor="middle" fill="#333" stroke="#333" stroke-width="0.22">8.1 × 10<tspan dy="-2.3" font-size="4.2">−10</tspan></text>
<text x="405.30" y="202.50" font-size="6.4" text-anchor="end" fill="#555" transform="rotate(-45 405.30 202.50)" stroke="#555" stroke-width="0.22">EGFP</text>
<text x="423.00" y="205.20" font-size="6.4" text-anchor="middle" fill="#555" stroke="#555" stroke-width="0.22">WT</text>
<text x="441.90" y="205.20" font-size="6.4" text-anchor="middle" fill="#555" stroke="#555" stroke-width="0.22">T286D</text>
<text x="432.40" y="215.00" font-size="6.1" text-anchor="middle" fill="#555" stroke="#555" stroke-width="0.22">CaMKIIα</text>
<text x="363.50" y="150.20" font-size="6.7" text-anchor="middle" fill="#222" transform="rotate(-90 363.50 150.20)" stroke="#222" stroke-width="0.22"><tspan font-style="italic">P</tspan><tspan font-size="4.6" dy="1.6">ws</tspan><tspan dy="-1.6"> / day</tspan></text>
<text x="460.60" y="88.80" font-size="12.5" font-weight="bold" fill="#111" stroke="#111" stroke-width="0.08">d</text>
<line x1="513.15" y1="104.40" x2="513.15" y2="195.90" stroke="#e4e4e4" stroke-width="0.6"/>
<line x1="536.10" y1="104.40" x2="536.10" y2="195.90" stroke="#e4e4e4" stroke-width="0.6"/>
<line x1="559.05" y1="104.40" x2="559.05" y2="195.90" stroke="#e4e4e4" stroke-width="0.6"/>
<line x1="582.00" y1="104.40" x2="582.00" y2="195.90" stroke="#d8d8d8" stroke-width="0.6"/>
<line x1="490.20" y1="104.40" x2="582.00" y2="104.40" stroke="#bdbdbd" stroke-width="0.6"/>
<line x1="490.20" y1="150.15" x2="582.00" y2="150.15" stroke="#ececec" stroke-width="0.6"/>
<polyline points="490.20,178.70 494.02,184.60 497.85,184.20 501.68,183.60 505.50,183.20 509.32,183.20 513.15,183.20 516.98,182.60 520.80,181.70 524.62,179.70 528.45,175.80 532.27,171.90 536.10,170.90 539.92,169.00 543.75,166.00 547.58,163.10 551.40,157.20 555.23,170.90 559.05,174.80 562.88,169.00 566.70,173.80 570.52,171.90 574.35,171.90 578.17,176.80" fill="none" stroke="#eaa2cf" stroke-width="2.0" stroke-linejoin="round" stroke-linecap="round" stroke-opacity="0.55"/>
<polyline points="490.20,182.00 494.02,184.00 497.85,184.00 501.68,182.60 505.50,184.00 509.32,184.00 513.15,183.00 516.98,183.00 520.80,182.60 524.62,180.70 528.45,177.80 532.27,173.80 536.10,174.80 539.92,173.80 543.75,170.90 547.58,159.20 551.40,173.80 555.23,176.80 559.05,173.40 562.88,173.80 566.70,170.90 570.52,169.00 574.35,170.00 578.17,172.90" fill="none" stroke="#a8d08a" stroke-width="1.6" stroke-linejoin="round" stroke-linecap="round" stroke-opacity="0.55"/>
<polyline points="490.20,184.60 494.02,184.60 497.85,185.00 501.68,185.60 505.50,185.20 509.32,184.00 513.15,183.20 516.98,185.00 520.80,182.60 524.62,183.00 528.45,181.70 532.27,178.30 536.10,176.80 539.92,178.70 543.75,179.70 547.58,180.10 551.40,180.70 555.23,180.70 559.05,182.00 562.88,182.60 566.70,181.30 570.52,181.30 574.35,180.10 578.17,183.60" fill="none" stroke="#d98ab8" stroke-width="1.2" stroke-linejoin="round" stroke-linecap="round" stroke-opacity="0.55"/>
<polyline points="490.20,178.70 494.02,184.60 497.85,184.20 501.68,183.60 505.50,183.20 509.32,183.20 513.15,183.20 516.98,182.60 520.80,181.70 524.62,179.70 528.45,175.80 532.27,171.90 536.10,170.90 539.92,169.00 543.75,166.00 547.58,163.10 551.40,157.20 555.23,170.90 559.05,174.80 562.88,169.00 566.70,173.80 570.52,171.90 574.35,171.90 578.17,176.80" fill="none" stroke="#eaa2cf" stroke-width="0.8" stroke-linejoin="round" stroke-linecap="round"/>
<polyline points="490.20,182.00 494.02,184.00 497.85,184.00 501.68,182.60 505.50,184.00 509.32,184.00 513.15,183.00 516.98,183.00 520.80,182.60 524.62,180.70 528.45,177.80 532.27,173.80 536.10,174.80 539.92,173.80 543.75,170.90 547.58,159.20 551.40,173.80 555.23,176.80 559.05,173.40 562.88,173.80 566.70,170.90 570.52,169.00 574.35,170.00 578.17,172.90" fill="none" stroke="#6fb84a" stroke-width="0.8" stroke-linejoin="round" stroke-linecap="round"/>
<polyline points="490.20,184.60 494.02,184.60 497.85,185.00 501.68,185.60 505.50,185.20 509.32,184.00 513.15,183.20 516.98,185.00 520.80,182.60 524.62,183.00 528.45,181.70 532.27,178.30 536.10,176.80 539.92,178.70 543.75,179.70 547.58,180.10 551.40,180.70 555.23,180.70 559.05,182.00 562.88,182.60 566.70,181.30 570.52,181.30 574.35,180.10 578.17,183.60" fill="none" stroke="#c0328a" stroke-width="0.9" stroke-linejoin="round" stroke-linecap="round"/>
<rect x="490.20" y="195.90" width="45.90" height="4.10" fill="#eda04f" stroke="none" stroke-width="0.8"/>
<rect x="536.10" y="195.90" width="45.90" height="4.10" fill="#0a0a0a" stroke="none" stroke-width="0.8"/>
<line x1="490.20" y1="104.40" x2="490.20" y2="200.00" stroke="#949494" stroke-width="0.9"/>
<line x1="488.60" y1="104.40" x2="490.20" y2="104.40" stroke="#949494" stroke-width="0.8"/>
<text x="485.90" y="106.70" font-size="6.4" text-anchor="end" fill="#5a5a5a" stroke="#5a5a5a" stroke-width="0.22">0.2</text>
<line x1="488.60" y1="150.15" x2="490.20" y2="150.15" stroke="#949494" stroke-width="0.8"/>
<text x="485.90" y="152.45" font-size="6.4" text-anchor="end" fill="#5a5a5a" stroke="#5a5a5a" stroke-width="0.22">0.1</text>
<line x1="488.60" y1="195.90" x2="490.20" y2="195.90" stroke="#949494" stroke-width="0.8"/>
<text x="485.90" y="198.20" font-size="6.4" text-anchor="end" fill="#5a5a5a" stroke="#5a5a5a" stroke-width="0.22">0.0</text>
<text x="490.20" y="205.50" font-size="6.4" text-anchor="middle" fill="#5a5a5a" stroke="#5a5a5a" stroke-width="0.22">0</text>
<text x="513.15" y="205.50" font-size="6.4" text-anchor="middle" fill="#5a5a5a" stroke="#5a5a5a" stroke-width="0.22">6</text>
<text x="536.10" y="205.50" font-size="6.4" text-anchor="middle" fill="#5a5a5a" stroke="#5a5a5a" stroke-width="0.22">12</text>
<text x="559.05" y="205.50" font-size="6.4" text-anchor="middle" fill="#5a5a5a" stroke="#5a5a5a" stroke-width="0.22">18</text>
<text x="582.00" y="205.50" font-size="6.4" text-anchor="middle" fill="#5a5a5a" stroke="#5a5a5a" stroke-width="0.22">24</text>
<text x="536.10" y="217.50" font-size="6.0" text-anchor="middle" font-weight="bold" fill="#222" stroke="#222" stroke-width="0.08">Zeitgeber time (hr)</text>
<text x="579.70" y="110.90" font-size="6.3" text-anchor="end" font-weight="bold" fill="#76b852" stroke="#76b852" stroke-width="0.08">EGFP</text>
<text x="579.70" y="117.85" font-size="6.3" text-anchor="end" font-weight="bold" fill="#f0a8d4" stroke="#f0a8d4" stroke-width="0.08">CaMKIIα(WT)</text>
<text x="579.70" y="124.80" font-size="6.3" text-anchor="end" font-weight="bold" fill="#c22a8b" stroke="#c22a8b" stroke-width="0.08">CaMKIIα(T286D)</text>
<text x="469.40" y="152.30" font-size="6.7" text-anchor="middle" fill="#222" transform="rotate(-90 469.40 152.30)" stroke="#222" stroke-width="0.22"><tspan font-style="italic">P</tspan><tspan font-size="4.6" dy="1.6">sw</tspan><tspan dy="-1.6"> / hour</tspan></text>
<line x1="619.10" y1="104.60" x2="619.10" y2="195.80" stroke="#949494" stroke-width="0.9"/>
<line x1="617.50" y1="104.60" x2="619.10" y2="104.60" stroke="#949494" stroke-width="0.8"/>
<text x="614.80" y="106.90" font-size="6.4" text-anchor="end" fill="#5a5a5a" stroke="#5a5a5a" stroke-width="0.22">0.05</text>
<line x1="617.50" y1="122.84" x2="619.10" y2="122.84" stroke="#949494" stroke-width="0.8"/>
<text x="614.80" y="125.14" font-size="6.4" text-anchor="end" fill="#5a5a5a" stroke="#5a5a5a" stroke-width="0.22">0.04</text>
<line x1="617.50" y1="141.08" x2="619.10" y2="141.08" stroke="#949494" stroke-width="0.8"/>
<text x="614.80" y="143.38" font-size="6.4" text-anchor="end" fill="#5a5a5a" stroke="#5a5a5a" stroke-width="0.22">0.03</text>
<line x1="617.50" y1="159.32" x2="619.10" y2="159.32" stroke="#949494" stroke-width="0.8"/>
<text x="614.80" y="161.62" font-size="6.4" text-anchor="end" fill="#5a5a5a" stroke="#5a5a5a" stroke-width="0.22">0.02</text>
<line x1="617.50" y1="177.56" x2="619.10" y2="177.56" stroke="#949494" stroke-width="0.8"/>
<text x="614.80" y="179.86" font-size="6.4" text-anchor="end" fill="#5a5a5a" stroke="#5a5a5a" stroke-width="0.22">0.01</text>
<line x1="617.50" y1="195.80" x2="619.10" y2="195.80" stroke="#949494" stroke-width="0.8"/>
<text x="614.80" y="198.10" font-size="6.4" text-anchor="end" fill="#5a5a5a" stroke="#5a5a5a" stroke-width="0.22">0.00</text>
<line x1="619.10" y1="195.80" x2="684.50" y2="195.80" stroke="#949494" stroke-width="0.9"/>
<line x1="631.70" y1="195.80" x2="631.70" y2="197.40" stroke="#949494" stroke-width="0.8"/>
<line x1="652.40" y1="195.80" x2="652.40" y2="197.40" stroke="#949494" stroke-width="0.8"/>
<line x1="671.70" y1="195.80" x2="671.70" y2="197.40" stroke="#949494" stroke-width="0.8"/>
<circle cx="631.70" cy="117.90" r="1.70" fill="#6cb248" stroke="none" stroke-width="0.6"/>
<circle cx="631.70" cy="119.60" r="1.70" fill="#6cb248" stroke="none" stroke-width="0.6"/>
<circle cx="631.70" cy="122.10" r="1.70" fill="#6cb248" stroke="none" stroke-width="0.6"/>
<circle cx="631.70" cy="127.40" r="1.70" fill="#6cb248" stroke="none" stroke-width="0.6"/>
<circle cx="631.70" cy="128.80" r="1.70" fill="#6cb248" stroke="none" stroke-width="0.6"/>
<circle cx="631.70" cy="132.20" r="1.70" fill="#6cb248" stroke="none" stroke-width="0.6"/>
<circle cx="631.70" cy="135.80" r="1.70" fill="#6cb248" stroke="none" stroke-width="0.6"/>
<circle cx="631.70" cy="137.90" r="1.70" fill="#6cb248" stroke="none" stroke-width="0.6"/>
<circle cx="631.70" cy="146.30" r="1.70" fill="#6cb248" stroke="none" stroke-width="0.6"/>
<circle cx="631.70" cy="147.80" r="1.70" fill="#6cb248" stroke="none" stroke-width="0.6"/>
<circle cx="652.40" cy="112.00" r="1.70" fill="#f0a3cf" stroke="none" stroke-width="0.6"/>
<circle cx="652.40" cy="120.00" r="1.70" fill="#f0a3cf" stroke="none" stroke-width="0.6"/>
<circle cx="652.40" cy="125.30" r="1.70" fill="#f0a3cf" stroke="none" stroke-width="0.6"/>
<circle cx="652.40" cy="130.10" r="1.70" fill="#f0a3cf" stroke="none" stroke-width="0.6"/>
<circle cx="652.40" cy="134.30" r="1.70" fill="#f0a3cf" stroke="none" stroke-width="0.6"/>
<circle cx="652.40" cy="136.80" r="1.70" fill="#f0a3cf" stroke="none" stroke-width="0.6"/>
<circle cx="652.40" cy="139.40" r="1.70" fill="#f0a3cf" stroke="none" stroke-width="0.6"/>
<circle cx="652.40" cy="142.10" r="1.70" fill="#f0a3cf" stroke="none" stroke-width="0.6"/>
<circle cx="671.70" cy="139.00" r="1.70" fill="#c22a8b" stroke="none" stroke-width="0.6"/>
<circle cx="671.70" cy="140.50" r="1.70" fill="#c22a8b" stroke="none" stroke-width="0.6"/>
<circle cx="671.70" cy="142.00" r="1.70" fill="#c22a8b" stroke="none" stroke-width="0.6"/>
<circle cx="671.70" cy="143.50" r="1.70" fill="#c22a8b" stroke="none" stroke-width="0.6"/>
<circle cx="671.70" cy="145.00" r="1.70" fill="#c22a8b" stroke="none" stroke-width="0.6"/>
<circle cx="671.70" cy="146.50" r="1.70" fill="#c22a8b" stroke="none" stroke-width="0.6"/>
<circle cx="671.70" cy="148.00" r="1.70" fill="#c22a8b" stroke="none" stroke-width="0.6"/>
<circle cx="671.70" cy="149.50" r="1.70" fill="#c22a8b" stroke="none" stroke-width="0.6"/>
<circle cx="671.70" cy="150.50" r="1.70" fill="#c22a8b" stroke="none" stroke-width="0.6"/>
<line x1="626.50" y1="131.20" x2="636.90" y2="131.20" stroke="#333" stroke-width="1.1"/>
<line x1="647.20" y1="132.20" x2="657.60" y2="132.20" stroke="#333" stroke-width="1.1"/>
<line x1="666.50" y1="144.20" x2="676.90" y2="144.20" stroke="#333" stroke-width="1.1"/>
<text x="602.60" y="94.70" font-size="6.2" fill="#222" stroke="#222" stroke-width="0.22">Adj. <tspan font-style="italic">P</tspan> =</text>
<path d="M631.70,91.70 L631.70,89.50 L671.70,89.50 L671.70,91.70" fill="none" stroke="#777" stroke-width="0.8"/>
<text x="651.70" y="87.40" font-size="6.2" text-anchor="middle" fill="#333" stroke="#333" stroke-width="0.22">0.0049</text>
<path d="M631.70,102.20 L631.70,100.00 L651.80,100.00 L651.80,102.20" fill="none" stroke="#777" stroke-width="0.8"/>
<text x="641.20" y="97.50" font-size="6.2" text-anchor="middle" fill="#333" stroke="#333" stroke-width="0.22">1.0</text>
<path d="M653.00,102.20 L653.00,100.00 L671.70,100.00 L671.70,102.20" fill="none" stroke="#777" stroke-width="0.8"/>
<text x="662.00" y="97.50" font-size="6.2" text-anchor="middle" fill="#333" stroke="#333" stroke-width="0.22">0.0032</text>
<text x="634.70" y="202.50" font-size="6.4" text-anchor="end" fill="#555" transform="rotate(-45 634.70 202.50)" stroke="#555" stroke-width="0.22">EGFP</text>
<text x="652.40" y="205.20" font-size="6.4" text-anchor="middle" fill="#555" stroke="#555" stroke-width="0.22">WT</text>
<text x="671.70" y="205.20" font-size="6.4" text-anchor="middle" fill="#555" stroke="#555" stroke-width="0.22">T286D</text>
<text x="662.00" y="215.00" font-size="6.1" text-anchor="middle" fill="#555" stroke="#555" stroke-width="0.22">CaMKIIα</text>
<text x="594.00" y="150.20" font-size="6.7" text-anchor="middle" fill="#222" transform="rotate(-90 594.00 150.20)" stroke="#222" stroke-width="0.22"><tspan font-style="italic">P</tspan><tspan font-size="4.6" dy="1.6">sw</tspan><tspan dy="-1.6"> / day</tspan></text>
<text x="-0.40" y="251.40" font-size="12.5" font-weight="bold" fill="#111" stroke="#111" stroke-width="0.08">e</text>
<g transform="translate(10.20,244.40) scale(0.08757)">
<path d="M515,246 C552,262 592,288 600,312 C606,336 590,352 556,352 C510,352 460,340 410,328 C370,320 330,318 292,324" fill="none" stroke="#3e3628" stroke-width="20" stroke-linecap="round"/>
<path d="M515,246 C552,262 592,288 600,312 C606,336 590,352 556,352 C510,352 460,340 410,328 C370,320 330,318 292,324" fill="none" stroke="#c9b99b" stroke-width="10" stroke-dasharray="12 10"/>
<path d="M470,266 C455,280 430,287 392,290 L384,300 L440,300 C462,292 478,282 490,268 Z" fill="#c9b99b" stroke="#3e3628" stroke-width="8"/>
<path d="M58,155 C80,134 118,118 150,108 L186,90 L201,78 L212,88 L216,110 C262,113 330,103 400,121 C450,134 490,163 505,198 C512,218 518,236 520,246 C508,262 488,271 468,269 C440,275 420,282 395,283 C350,284 300,284 262,278 C240,274 222,270 208,266 L200,282 L196,296 L134,298 L128,288 L180,283 L186,258 C165,248 140,232 118,218 C95,203 70,185 58,155 Z" fill="#c9b99b" stroke="#3e3628" stroke-width="9"/>
</g>
<g transform="translate(75.60,244.40) scale(0.08757)">
<path d="M515,246 C552,262 592,288 600,312 C606,336 590,352 556,352 C510,352 460,340 410,328 C370,320 330,318 292,324" fill="none" stroke="#3e3628" stroke-width="20" stroke-linecap="round"/>
<path d="M515,246 C552,262 592,288 600,312 C606,336 590,352 556,352 C510,352 460,340 410,328 C370,320 330,318 292,324" fill="none" stroke="#c8ca9c" stroke-width="10" stroke-dasharray="12 10"/>
<path d="M470,266 C455,280 430,287 392,290 L384,300 L440,300 C462,292 478,282 490,268 Z" fill="#c8ca9c" stroke="#3e3628" stroke-width="8"/>
<path d="M58,155 C80,134 118,118 150,108 L186,90 L201,78 L212,88 L216,110 C262,113 330,103 400,121 C450,134 490,163 505,198 C512,218 518,236 520,246 C508,262 488,271 468,269 C440,275 420,282 395,283 C350,284 300,284 262,278 C240,274 222,270 208,266 L200,282 L196,296 L134,298 L128,288 L180,283 L186,258 C165,248 140,232 118,218 C95,203 70,185 58,155 Z" fill="#c8ca9c" stroke="#3e3628" stroke-width="9"/>
</g>
<text x="70.50" y="265.70" font-size="7.2" text-anchor="middle" fill="#222" stroke="#222" stroke-width="0.22">or</text>
<text x="37.80" y="284.00" font-size="5.9" text-anchor="middle" font-style="italic" fill="#333" stroke="#333" stroke-width="0.22">Per1<tspan font-size="3.4" dy="-2.2">−/−</tspan><tspan dy="2.2">:Per2</tspan><tspan font-size="3.4" dy="-2.2">−/−</tspan></text>
<text x="103.20" y="284.00" font-size="5.9" text-anchor="middle" font-style="italic" fill="#333" stroke="#333" stroke-width="0.22">Cry1<tspan font-size="3.4" dy="-2.2">−/−</tspan><tspan dy="2.2">:Cry2</tspan><tspan font-size="3.4" dy="-2.2">−/−</tspan></text>
<line x1="24.10" y1="300.40" x2="120.60" y2="300.40" stroke="#222" stroke-width="0.9"/>
<path d="M31.10,295.90 L56.30,295.90 L60.30,300.25 L56.30,304.60 L31.10,304.60 Z" fill="#8fd17c" stroke="#333" stroke-width="0.6"/>
<text x="44.70" y="302.55" font-size="6.4" text-anchor="middle" fill="#222" stroke="#222" stroke-width="0.12">E11(PV)</text>
<path d="M65.00,295.90 L109.40,295.90 L113.40,300.25 L109.40,304.60 L65.00,304.60 Z" fill="#f3a6c8" stroke="#333" stroke-width="0.6"/>
<text x="88.20" y="302.55" font-size="6.4" text-anchor="middle" fill="#222" stroke="#222" stroke-width="0.12">FLAG-<tspan font-style="italic">Camk2a</tspan></text>
<path d="M65.3,295.9 L65.3,292.0 L81.5,292.0" fill="none" stroke="#111" stroke-width="0.8"/>
<path d="M84.2,292.0 L80.8,290.6 L80.8,293.4 Z" fill="#111" stroke="none" stroke-width="0.8"/>
<text x="34.70" y="316.80" font-size="7.4" text-anchor="middle" fill="#222" stroke="#222" stroke-width="0.22">AAV</text>
<text x="34.70" y="323.50" font-size="7.4" text-anchor="middle" fill="#222" stroke="#222" stroke-width="0.22">injection</text>
<line x1="35.40" y1="326.80" x2="35.40" y2="334.00" stroke="#111" stroke-width="0.8"/>
<path d="M35.4,335.2 L34.0,332.0 L36.8,332.0 Z" fill="#111" stroke="none" stroke-width="0.8"/>
<rect x="52.70" y="326.40" width="33.50" height="7.90" fill="#fff" stroke="#555" stroke-width="0.7"/>
<rect x="86.20" y="326.40" width="34.40" height="7.90" fill="#8c8c8c" stroke="#555" stroke-width="0.7"/>
<text x="69.50" y="332.90" font-size="7.2" text-anchor="middle" fill="#222" stroke="#222" stroke-width="0.22">LD</text>
<text x="103.40" y="332.90" font-size="7.2" text-anchor="middle" fill="#222" stroke="#222" stroke-width="0.22">DD</text>
<text x="111.90" y="320.80" font-size="7.4" text-anchor="middle" fill="#e8202a" stroke="#e8202a" stroke-width="0.22">Sleep analysis</text>
<line x1="103.80" y1="324.10" x2="119.60" y2="324.10" stroke="#e8202a" stroke-width="1.1"/>
<line x1="19.40" y1="339.20" x2="132.80" y2="339.20" stroke="#333" stroke-width="0.8"/>
<line x1="35.40" y1="337.60" x2="35.40" y2="340.80" stroke="#333" stroke-width="0.8"/>
<text x="35.40" y="349.50" font-size="7.2" text-anchor="middle" fill="#222" stroke="#222" stroke-width="0.22">6</text>
<line x1="52.70" y1="337.60" x2="52.70" y2="340.80" stroke="#333" stroke-width="0.8"/>
<text x="52.70" y="349.50" font-size="7.2" text-anchor="middle" fill="#222" stroke="#222" stroke-width="0.22">7</text>
<line x1="69.50" y1="337.60" x2="69.50" y2="340.80" stroke="#333" stroke-width="0.8"/>
<text x="69.50" y="349.50" font-size="7.2" text-anchor="middle" fill="#222" stroke="#222" stroke-width="0.22">8</text>
<line x1="86.20" y1="337.60" x2="86.20" y2="340.80" stroke="#333" stroke-width="0.8"/>
<text x="86.20" y="349.50" font-size="7.2" text-anchor="middle" fill="#222" stroke="#222" stroke-width="0.22">9</text>
<line x1="103.40" y1="337.60" x2="103.40" y2="340.80" stroke="#333" stroke-width="0.8"/>
<text x="103.40" y="349.50" font-size="7.2" text-anchor="middle" fill="#222" stroke="#222" stroke-width="0.22">10</text>
<line x1="120.60" y1="337.60" x2="120.60" y2="340.80" stroke="#333" stroke-width="0.8"/>
<text x="120.60" y="349.50" font-size="7.2" text-anchor="middle" fill="#222" stroke="#222" stroke-width="0.22">11</text>
<text x="77.70" y="359.30" font-size="7.4" text-anchor="middle" fill="#222" stroke="#222" stroke-width="0.22">Postnatal week</text>
<text x="151.80" y="251.60" font-size="12.5" font-weight="bold" fill="#111" stroke="#111" stroke-width="0.08">f</text>
<rect x="186.30" y="261.00" width="63.70" height="91.60" fill="#eaeaea" stroke="none" stroke-width="0.8"/>
<rect x="257.20" y="261.00" width="63.50" height="91.60" fill="#eaeaea" stroke="none" stroke-width="0.8"/>
<line x1="186.30" y1="261.00" x2="186.30" y2="352.60" stroke="#949494" stroke-width="0.9"/>
<line x1="184.70" y1="261.00" x2="186.30" y2="261.00" stroke="#949494" stroke-width="0.8"/>
<text x="182.00" y="263.30" font-size="6.4" text-anchor="end" fill="#5a5a5a" stroke="#5a5a5a" stroke-width="0.22">1200</text>
<line x1="184.70" y1="283.90" x2="186.30" y2="283.90" stroke="#949494" stroke-width="0.8"/>
<text x="182.00" y="286.20" font-size="6.4" text-anchor="end" fill="#5a5a5a" stroke="#5a5a5a" stroke-width="0.22">900</text>
<line x1="184.70" y1="306.80" x2="186.30" y2="306.80" stroke="#949494" stroke-width="0.8"/>
<text x="182.00" y="309.10" font-size="6.4" text-anchor="end" fill="#5a5a5a" stroke="#5a5a5a" stroke-width="0.22">600</text>
<line x1="184.70" y1="329.70" x2="186.30" y2="329.70" stroke="#949494" stroke-width="0.8"/>
<text x="182.00" y="332.00" font-size="6.4" text-anchor="end" fill="#5a5a5a" stroke="#5a5a5a" stroke-width="0.22">300</text>
<line x1="184.70" y1="352.60" x2="186.30" y2="352.60" stroke="#949494" stroke-width="0.8"/>
<text x="182.00" y="354.90" font-size="6.4" text-anchor="end" fill="#5a5a5a" stroke="#5a5a5a" stroke-width="0.22">0</text>
<line x1="186.30" y1="352.60" x2="250.00" y2="352.60" stroke="#949494" stroke-width="0.9"/>
<line x1="203.50" y1="352.60" x2="203.50" y2="354.20" stroke="#949494" stroke-width="0.8"/>
<line x1="232.80" y1="352.60" x2="232.80" y2="354.20" stroke="#949494" stroke-width="0.8"/>
<line x1="257.20" y1="352.60" x2="320.70" y2="352.60" stroke="#949494" stroke-width="0.9"/>
<line x1="274.20" y1="352.60" x2="274.20" y2="354.20" stroke="#949494" stroke-width="0.8"/>
<line x1="303.10" y1="352.60" x2="303.10" y2="354.20" stroke="#949494" stroke-width="0.8"/>
<text x="157.60" y="306.80" font-size="6.2" text-anchor="middle" fill="#222" transform="rotate(-90 157.60 306.80)" stroke="#222" stroke-width="0.22">Sleep duration / day (min)</text>
<circle cx="203.50" cy="286.20" r="1.30" fill="#f2a7d2" stroke="none" stroke-width="0.6"/>
<circle cx="203.50" cy="288.00" r="1.30" fill="#f2a7d2" stroke="none" stroke-width="0.6"/>
<circle cx="203.50" cy="289.40" r="1.30" fill="#f2a7d2" stroke="none" stroke-width="0.6"/>
<circle cx="203.50" cy="290.30" r="1.30" fill="#f2a7d2" stroke="none" stroke-width="0.6"/>
<circle cx="203.50" cy="291.50" r="1.30" fill="#f2a7d2" stroke="none" stroke-width="0.6"/>
<circle cx="203.50" cy="292.80" r="1.30" fill="#f2a7d2" stroke="none" stroke-width="0.6"/>
<circle cx="203.50" cy="294.60" r="1.30" fill="#f2a7d2" stroke="none" stroke-width="0.6"/>
<line x1="196.50" y1="290.30" x2="210.50" y2="290.30" stroke="#333" stroke-width="1.1"/>
<line x1="203.50" y1="289.30" x2="203.50" y2="291.30" stroke="#333" stroke-width="0.9900000000000001"/>
<line x1="201.10" y1="289.30" x2="205.90" y2="289.30" stroke="#333" stroke-width="0.9900000000000001"/>
<line x1="201.10" y1="291.30" x2="205.90" y2="291.30" stroke="#333" stroke-width="0.9900000000000001"/>
<circle cx="232.80" cy="271.70" r="1.30" fill="#c22a8b" stroke="none" stroke-width="0.6"/>
<circle cx="232.80" cy="274.00" r="1.30" fill="#c22a8b" stroke="none" stroke-width="0.6"/>
<circle cx="232.80" cy="275.50" r="1.30" fill="#c22a8b" stroke="none" stroke-width="0.6"/>
<circle cx="232.80" cy="276.40" r="1.30" fill="#c22a8b" stroke="none" stroke-width="0.6"/>
<circle cx="232.80" cy="277.50" r="1.30" fill="#c22a8b" stroke="none" stroke-width="0.6"/>
<circle cx="232.80" cy="279.00" r="1.30" fill="#c22a8b" stroke="none" stroke-width="0.6"/>
<circle cx="232.80" cy="280.30" r="1.30" fill="#c22a8b" stroke="none" stroke-width="0.6"/>
<line x1="225.80" y1="276.40" x2="239.80" y2="276.40" stroke="#333" stroke-width="1.1"/>
<line x1="232.80" y1="275.40" x2="232.80" y2="277.40" stroke="#333" stroke-width="0.9900000000000001"/>
<line x1="230.40" y1="275.40" x2="235.20" y2="275.40" stroke="#333" stroke-width="0.9900000000000001"/>
<line x1="230.40" y1="277.40" x2="235.20" y2="277.40" stroke="#333" stroke-width="0.9900000000000001"/>
<circle cx="274.20" cy="297.60" r="1.30" fill="#f2a7d2" stroke="none" stroke-width="0.6"/>
<circle cx="274.20" cy="299.00" r="1.30" fill="#f2a7d2" stroke="none" stroke-width="0.6"/>
<circle cx="274.20" cy="300.40" r="1.30" fill="#f2a7d2" stroke="none" stroke-width="0.6"/>
<circle cx="274.20" cy="301.80" r="1.30" fill="#f2a7d2" stroke="none" stroke-width="0.6"/>
<circle cx="274.20" cy="303.00" r="1.30" fill="#f2a7d2" stroke="none" stroke-width="0.6"/>
<line x1="267.20" y1="300.40" x2="281.20" y2="300.40" stroke="#333" stroke-width="1.1"/>
<line x1="274.20" y1="299.60" x2="274.20" y2="301.20" stroke="#333" stroke-width="0.9900000000000001"/>
<line x1="271.80" y1="299.60" x2="276.60" y2="299.60" stroke="#333" stroke-width="0.9900000000000001"/>
<line x1="271.80" y1="301.20" x2="276.60" y2="301.20" stroke="#333" stroke-width="0.9900000000000001"/>
<circle cx="303.10" cy="273.70" r="1.30" fill="#c22a8b" stroke="none" stroke-width="0.6"/>
<circle cx="303.10" cy="278.40" r="1.30" fill="#c22a8b" stroke="none" stroke-width="0.6"/>
<circle cx="303.10" cy="281.90" r="1.30" fill="#c22a8b" stroke="none" stroke-width="0.6"/>
<circle cx="303.10" cy="296.50" r="1.30" fill="#c22a8b" stroke="none" stroke-width="0.6"/>
<line x1="296.10" y1="282.30" x2="310.10" y2="282.30" stroke="#333" stroke-width="1.1"/>
<line x1="303.10" y1="278.40" x2="303.10" y2="286.20" stroke="#333" stroke-width="0.9900000000000001"/>
<line x1="300.70" y1="278.40" x2="305.50" y2="278.40" stroke="#333" stroke-width="0.9900000000000001"/>
<line x1="300.70" y1="286.20" x2="305.50" y2="286.20" stroke="#333" stroke-width="0.9900000000000001"/>
<text x="203.50" y="361.20" font-size="6.4" text-anchor="middle" fill="#444" stroke="#444" stroke-width="0.22">WT</text>
<text x="232.80" y="361.20" font-size="6.4" text-anchor="middle" fill="#444" stroke="#444" stroke-width="0.22">T286D</text>
<text x="274.20" y="361.20" font-size="6.4" text-anchor="middle" fill="#444" stroke="#444" stroke-width="0.22">WT</text>
<text x="303.10" y="361.20" font-size="6.4" text-anchor="middle" fill="#444" stroke="#444" stroke-width="0.22">T286D</text>
<text x="220.20" y="372.80" font-size="5.9" text-anchor="middle" font-style="italic" fill="#333" stroke="#333" stroke-width="0.22">Per1<tspan font-size="3.4" dy="-2.2">−/−</tspan><tspan dy="2.2">:Per2</tspan><tspan font-size="3.4" dy="-2.2">−/−</tspan></text>
<text x="288.80" y="372.80" font-size="5.9" text-anchor="middle" font-style="italic" fill="#333" stroke="#333" stroke-width="0.22">Cry1<tspan font-size="3.4" dy="-2.2">−/−</tspan><tspan dy="2.2">:Cry2</tspan><tspan font-size="3.4" dy="-2.2">−/−</tspan></text>
<path d="M203.50,258.30 L203.50,256.10 L232.80,256.10 L232.80,258.30" fill="none" stroke="#777" stroke-width="0.8"/>
<text x="218.15" y="252.20" font-size="6.2" text-anchor="middle" fill="#333" stroke="#333" stroke-width="0.22"><tspan font-style="italic">P</tspan> = 1.0 × 10<tspan dy="-2.36" font-size="4.22">−4</tspan></text>
<path d="M274.20,258.30 L274.20,256.10 L303.10,256.10 L303.10,258.30" fill="none" stroke="#777" stroke-width="0.8"/>
<text x="288.65" y="252.20" font-size="6.2" text-anchor="middle" fill="#333" stroke="#333" stroke-width="0.22"><tspan font-style="italic">P</tspan> = 8.7 × 10<tspan dy="-2.36" font-size="4.22">−3</tspan></text>
<text x="335.20" y="251.00" font-size="12.5" font-weight="bold" fill="#111" stroke="#111" stroke-width="0.08">g</text>
<rect x="366.40" y="260.70" width="65.40" height="91.90" fill="#eaeaea" stroke="none" stroke-width="0.8"/>
<rect x="437.20" y="260.70" width="66.00" height="91.90" fill="#eaeaea" stroke="none" stroke-width="0.8"/>
<line x1="366.40" y1="260.70" x2="366.40" y2="352.60" stroke="#949494" stroke-width="0.9"/>
<line x1="364.80" y1="260.70" x2="366.40" y2="260.70" stroke="#949494" stroke-width="0.8"/>
<text x="362.10" y="263.00" font-size="6.4" text-anchor="end" fill="#5a5a5a" stroke="#5a5a5a" stroke-width="0.22">0.10</text>
<line x1="364.80" y1="279.08" x2="366.40" y2="279.08" stroke="#949494" stroke-width="0.8"/>
<text x="362.10" y="281.38" font-size="6.4" text-anchor="end" fill="#5a5a5a" stroke="#5a5a5a" stroke-width="0.22">0.08</text>
<line x1="364.80" y1="297.46" x2="366.40" y2="297.46" stroke="#949494" stroke-width="0.8"/>
<text x="362.10" y="299.76" font-size="6.4" text-anchor="end" fill="#5a5a5a" stroke="#5a5a5a" stroke-width="0.22">0.06</text>
<line x1="364.80" y1="315.84" x2="366.40" y2="315.84" stroke="#949494" stroke-width="0.8"/>
<text x="362.10" y="318.14" font-size="6.4" text-anchor="end" fill="#5a5a5a" stroke="#5a5a5a" stroke-width="0.22">0.04</text>
<line x1="364.80" y1="334.22" x2="366.40" y2="334.22" stroke="#949494" stroke-width="0.8"/>
<text x="362.10" y="336.52" font-size="6.4" text-anchor="end" fill="#5a5a5a" stroke="#5a5a5a" stroke-width="0.22">0.02</text>
<line x1="364.80" y1="352.60" x2="366.40" y2="352.60" stroke="#949494" stroke-width="0.8"/>
<text x="362.10" y="354.90" font-size="6.4" text-anchor="end" fill="#5a5a5a" stroke="#5a5a5a" stroke-width="0.22">0.00</text>
<line x1="366.40" y1="352.60" x2="431.80" y2="352.60" stroke="#949494" stroke-width="0.9"/>
<line x1="384.30" y1="352.60" x2="384.30" y2="354.20" stroke="#949494" stroke-width="0.8"/>
<line x1="414.30" y1="352.60" x2="414.30" y2="354.20" stroke="#949494" stroke-width="0.8"/>
<line x1="437.20" y1="352.60" x2="503.20" y2="352.60" stroke="#949494" stroke-width="0.9"/>
<line x1="455.30" y1="352.60" x2="455.30" y2="354.20" stroke="#949494" stroke-width="0.8"/>
<line x1="485.20" y1="352.60" x2="485.20" y2="354.20" stroke="#949494" stroke-width="0.8"/>
<text x="342.00" y="306.60" font-size="6.7" text-anchor="middle" fill="#222" transform="rotate(-90 342.00 306.60)" stroke="#222" stroke-width="0.22"><tspan font-style="italic">P</tspan><tspan font-size="4.6" dy="1.6">ws</tspan><tspan dy="-1.6"> / day</tspan></text>
<circle cx="384.30" cy="300.40" r="1.30" fill="#f2a7d2" stroke="none" stroke-width="0.6"/>
<circle cx="384.30" cy="302.50" r="1.30" fill="#f2a7d2" stroke="none" stroke-width="0.6"/>
<circle cx="384.30" cy="306.90" r="1.30" fill="#f2a7d2" stroke="none" stroke-width="0.6"/>
<circle cx="384.30" cy="312.30" r="1.30" fill="#f2a7d2" stroke="none" stroke-width="0.6"/>
<circle cx="384.30" cy="315.60" r="1.30" fill="#f2a7d2" stroke="none" stroke-width="0.6"/>
<circle cx="384.30" cy="322.10" r="1.30" fill="#f2a7d2" stroke="none" stroke-width="0.6"/>
<line x1="377.30" y1="310.80" x2="391.30" y2="310.80" stroke="#333" stroke-width="1.1"/>
<line x1="384.30" y1="308.00" x2="384.30" y2="313.90" stroke="#333" stroke-width="0.9900000000000001"/>
<line x1="381.90" y1="308.00" x2="386.70" y2="308.00" stroke="#333" stroke-width="0.9900000000000001"/>
<line x1="381.90" y1="313.90" x2="386.70" y2="313.90" stroke="#333" stroke-width="0.9900000000000001"/>
<circle cx="414.30" cy="274.70" r="1.30" fill="#c22a8b" stroke="none" stroke-width="0.6"/>
<circle cx="414.30" cy="297.10" r="1.30" fill="#c22a8b" stroke="none" stroke-width="0.6"/>
<circle cx="414.30" cy="298.20" r="1.30" fill="#c22a8b" stroke="none" stroke-width="0.6"/>
<circle cx="414.30" cy="302.50" r="1.30" fill="#c22a8b" stroke="none" stroke-width="0.6"/>
<circle cx="414.30" cy="307.30" r="1.30" fill="#c22a8b" stroke="none" stroke-width="0.6"/>
<line x1="407.30" y1="296.70" x2="421.30" y2="296.70" stroke="#333" stroke-width="1.1"/>
<line x1="414.30" y1="292.10" x2="414.30" y2="301.40" stroke="#333" stroke-width="0.9900000000000001"/>
<line x1="411.90" y1="292.10" x2="416.70" y2="292.10" stroke="#333" stroke-width="0.9900000000000001"/>
<line x1="411.90" y1="301.40" x2="416.70" y2="301.40" stroke="#333" stroke-width="0.9900000000000001"/>
<circle cx="455.30" cy="305.80" r="1.30" fill="#f2a7d2" stroke="none" stroke-width="0.6"/>
<circle cx="455.30" cy="308.00" r="1.30" fill="#f2a7d2" stroke="none" stroke-width="0.6"/>
<circle cx="455.30" cy="321.00" r="1.30" fill="#f2a7d2" stroke="none" stroke-width="0.6"/>
<circle cx="455.30" cy="324.30" r="1.30" fill="#f2a7d2" stroke="none" stroke-width="0.6"/>
<line x1="448.30" y1="318.20" x2="462.30" y2="318.20" stroke="#333" stroke-width="1.1"/>
<line x1="455.30" y1="314.50" x2="455.30" y2="321.70" stroke="#333" stroke-width="0.9900000000000001"/>
<line x1="452.90" y1="314.50" x2="457.70" y2="314.50" stroke="#333" stroke-width="0.9900000000000001"/>
<line x1="452.90" y1="321.70" x2="457.70" y2="321.70" stroke="#333" stroke-width="0.9900000000000001"/>
<circle cx="485.20" cy="289.50" r="1.30" fill="#c22a8b" stroke="none" stroke-width="0.6"/>
<circle cx="485.20" cy="298.20" r="1.30" fill="#c22a8b" stroke="none" stroke-width="0.6"/>
<circle cx="485.20" cy="323.20" r="1.30" fill="#c22a8b" stroke="none" stroke-width="0.6"/>
<circle cx="485.20" cy="327.60" r="1.30" fill="#c22a8b" stroke="none" stroke-width="0.6"/>
<line x1="478.20" y1="308.00" x2="492.20" y2="308.00" stroke="#333" stroke-width="1.1"/>
<line x1="485.20" y1="300.40" x2="485.20" y2="315.60" stroke="#333" stroke-width="0.9900000000000001"/>
<line x1="482.80" y1="300.40" x2="487.60" y2="300.40" stroke="#333" stroke-width="0.9900000000000001"/>
<line x1="482.80" y1="315.60" x2="487.60" y2="315.60" stroke="#333" stroke-width="0.9900000000000001"/>
<text x="384.30" y="361.40" font-size="6.4" text-anchor="middle" fill="#444" stroke="#444" stroke-width="0.22">WT</text>
<text x="414.30" y="361.40" font-size="6.4" text-anchor="middle" fill="#444" stroke="#444" stroke-width="0.22">T286D</text>
<text x="455.30" y="361.40" font-size="6.4" text-anchor="middle" fill="#444" stroke="#444" stroke-width="0.22">WT</text>
<text x="485.20" y="361.40" font-size="6.4" text-anchor="middle" fill="#444" stroke="#444" stroke-width="0.22">T286D</text>
<text x="399.60" y="372.30" font-size="5.9" text-anchor="middle" font-style="italic" fill="#333" stroke="#333" stroke-width="0.22">Per1<tspan font-size="3.4" dy="-2.2">−/−</tspan><tspan dy="2.2">:Per2</tspan><tspan font-size="3.4" dy="-2.2">−/−</tspan></text>
<text x="469.90" y="372.30" font-size="5.9" text-anchor="middle" font-style="italic" fill="#333" stroke="#333" stroke-width="0.22">Cry1<tspan font-size="3.4" dy="-2.2">−/−</tspan><tspan dy="2.2">:Cry2</tspan><tspan font-size="3.4" dy="-2.2">−/−</tspan></text>
<path d="M384.30,257.20 L384.30,255.00 L414.30,255.00 L414.30,257.20" fill="none" stroke="#777" stroke-width="0.8"/>
<text x="399.30" y="252.00" font-size="6.2" text-anchor="middle" fill="#333" stroke="#333" stroke-width="0.22"><tspan font-style="italic">P</tspan> = 0.032</text>
<path d="M455.30,257.20 L455.30,255.00 L485.20,255.00 L485.20,257.20" fill="none" stroke="#777" stroke-width="0.8"/>
<text x="470.25" y="252.00" font-size="6.2" text-anchor="middle" fill="#333" stroke="#333" stroke-width="0.22"><tspan font-style="italic">P</tspan> = 0.27</text>
<text x="516.60" y="252.00" font-size="12.5" font-weight="bold" fill="#111" stroke="#111" stroke-width="0.08">h</text>
<rect x="548.60" y="260.70" width="65.40" height="91.90" fill="#eaeaea" stroke="none" stroke-width="0.8"/>
<rect x="619.20" y="260.70" width="66.30" height="91.90" fill="#eaeaea" stroke="none" stroke-width="0.8"/>
<line x1="548.60" y1="260.70" x2="548.60" y2="352.60" stroke="#949494" stroke-width="0.9"/>
<line x1="547.00" y1="260.70" x2="548.60" y2="260.70" stroke="#949494" stroke-width="0.8"/>
<text x="544.30" y="263.00" font-size="6.4" text-anchor="end" fill="#5a5a5a" stroke="#5a5a5a" stroke-width="0.22">0.06</text>
<line x1="547.00" y1="291.33" x2="548.60" y2="291.33" stroke="#949494" stroke-width="0.8"/>
<text x="544.30" y="293.64" font-size="6.4" text-anchor="end" fill="#5a5a5a" stroke="#5a5a5a" stroke-width="0.22">0.04</text>
<line x1="547.00" y1="321.97" x2="548.60" y2="321.97" stroke="#949494" stroke-width="0.8"/>
<text x="544.30" y="324.27" font-size="6.4" text-anchor="end" fill="#5a5a5a" stroke="#5a5a5a" stroke-width="0.22">0.02</text>
<line x1="547.00" y1="352.60" x2="548.60" y2="352.60" stroke="#949494" stroke-width="0.8"/>
<text x="544.30" y="354.90" font-size="6.4" text-anchor="end" fill="#5a5a5a" stroke="#5a5a5a" stroke-width="0.22">0.00</text>
<line x1="548.60" y1="352.60" x2="614.00" y2="352.60" stroke="#949494" stroke-width="0.9"/>
<line x1="566.70" y1="352.60" x2="566.70" y2="354.20" stroke="#949494" stroke-width="0.8"/>
<line x1="596.50" y1="352.60" x2="596.50" y2="354.20" stroke="#949494" stroke-width="0.8"/>
<line x1="619.20" y1="352.60" x2="685.00" y2="352.60" stroke="#949494" stroke-width="0.9"/>
<line x1="637.30" y1="352.60" x2="637.30" y2="354.20" stroke="#949494" stroke-width="0.8"/>
<line x1="667.10" y1="352.60" x2="667.10" y2="354.20" stroke="#949494" stroke-width="0.8"/>
<text x="524.60" y="306.60" font-size="6.7" text-anchor="middle" fill="#222" transform="rotate(-90 524.60 306.60)" stroke="#222" stroke-width="0.22"><tspan font-style="italic">P</tspan><tspan font-size="4.6" dy="1.6">sw</tspan><tspan dy="-1.6"> / day</tspan></text>
<circle cx="566.70" cy="288.40" r="1.30" fill="#f2a7d2" stroke="none" stroke-width="0.6"/>
<circle cx="566.70" cy="290.60" r="1.30" fill="#f2a7d2" stroke="none" stroke-width="0.6"/>
<circle cx="566.70" cy="303.60" r="1.30" fill="#f2a7d2" stroke="none" stroke-width="0.6"/>
<circle cx="566.70" cy="310.20" r="1.30" fill="#f2a7d2" stroke="none" stroke-width="0.6"/>
<circle cx="566.70" cy="318.90" r="1.30" fill="#f2a7d2" stroke="none" stroke-width="0.6"/>
<line x1="559.70" y1="299.30" x2="573.70" y2="299.30" stroke="#333" stroke-width="1.1"/>
<line x1="566.70" y1="294.30" x2="566.70" y2="303.60" stroke="#333" stroke-width="0.9900000000000001"/>
<line x1="564.30" y1="294.30" x2="569.10" y2="294.30" stroke="#333" stroke-width="0.9900000000000001"/>
<line x1="564.30" y1="303.60" x2="569.10" y2="303.60" stroke="#333" stroke-width="0.9900000000000001"/>
<circle cx="596.50" cy="290.60" r="1.30" fill="#c22a8b" stroke="none" stroke-width="0.6"/>
<circle cx="596.50" cy="312.30" r="1.30" fill="#c22a8b" stroke="none" stroke-width="0.6"/>
<circle cx="596.50" cy="315.20" r="1.30" fill="#c22a8b" stroke="none" stroke-width="0.6"/>
<circle cx="596.50" cy="317.40" r="1.30" fill="#c22a8b" stroke="none" stroke-width="0.6"/>
<line x1="589.50" y1="311.30" x2="603.50" y2="311.30" stroke="#333" stroke-width="1.1"/>
<line x1="596.50" y1="306.90" x2="596.50" y2="315.60" stroke="#333" stroke-width="0.9900000000000001"/>
<line x1="594.10" y1="306.90" x2="598.90" y2="306.90" stroke="#333" stroke-width="0.9900000000000001"/>
<line x1="594.10" y1="315.60" x2="598.90" y2="315.60" stroke="#333" stroke-width="0.9900000000000001"/>
<circle cx="637.30" cy="268.30" r="1.30" fill="#f2a7d2" stroke="none" stroke-width="0.6"/>
<circle cx="637.30" cy="276.40" r="1.30" fill="#f2a7d2" stroke="none" stroke-width="0.6"/>
<circle cx="637.30" cy="287.30" r="1.30" fill="#f2a7d2" stroke="none" stroke-width="0.6"/>
<circle cx="637.30" cy="292.70" r="1.30" fill="#f2a7d2" stroke="none" stroke-width="0.6"/>
<circle cx="637.30" cy="302.50" r="1.30" fill="#f2a7d2" stroke="none" stroke-width="0.6"/>
<circle cx="637.30" cy="305.20" r="1.30" fill="#f2a7d2" stroke="none" stroke-width="0.6"/>
<line x1="630.30" y1="289.00" x2="644.30" y2="289.00" stroke="#333" stroke-width="1.1"/>
<line x1="637.30" y1="283.40" x2="637.30" y2="293.80" stroke="#333" stroke-width="0.9900000000000001"/>
<line x1="634.90" y1="283.40" x2="639.70" y2="283.40" stroke="#333" stroke-width="0.9900000000000001"/>
<line x1="634.90" y1="293.80" x2="639.70" y2="293.80" stroke="#333" stroke-width="0.9900000000000001"/>
<circle cx="667.10" cy="305.80" r="1.30" fill="#c22a8b" stroke="none" stroke-width="0.6"/>
<circle cx="667.10" cy="310.20" r="1.30" fill="#c22a8b" stroke="none" stroke-width="0.6"/>
<circle cx="667.10" cy="323.20" r="1.30" fill="#c22a8b" stroke="none" stroke-width="0.6"/>
<line x1="660.10" y1="312.30" x2="674.10" y2="312.30" stroke="#333" stroke-width="1.1"/>
<line x1="667.10" y1="309.70" x2="667.10" y2="315.60" stroke="#333" stroke-width="0.9900000000000001"/>
<line x1="664.70" y1="309.70" x2="669.50" y2="309.70" stroke="#333" stroke-width="0.9900000000000001"/>
<line x1="664.70" y1="315.60" x2="669.50" y2="315.60" stroke="#333" stroke-width="0.9900000000000001"/>
<text x="566.70" y="361.40" font-size="6.4" text-anchor="middle" fill="#444" stroke="#444" stroke-width="0.22">WT</text>
<text x="596.50" y="361.40" font-size="6.4" text-anchor="middle" fill="#444" stroke="#444" stroke-width="0.22">T286D</text>
<text x="637.30" y="361.40" font-size="6.4" text-anchor="middle" fill="#444" stroke="#444" stroke-width="0.22">WT</text>
<text x="667.10" y="361.40" font-size="6.4" text-anchor="middle" fill="#444" stroke="#444" stroke-width="0.22">T286D</text>
<text x="581.60" y="372.30" font-size="5.9" text-anchor="middle" font-style="italic" fill="#333" stroke="#333" stroke-width="0.22">Per1<tspan font-size="3.4" dy="-2.2">−/−</tspan><tspan dy="2.2">:Per2</tspan><tspan font-size="3.4" dy="-2.2">−/−</tspan></text>
<text x="651.60" y="372.30" font-size="5.9" text-anchor="middle" font-style="italic" fill="#333" stroke="#333" stroke-width="0.22">Cry1<tspan font-size="3.4" dy="-2.2">−/−</tspan><tspan dy="2.2">:Cry2</tspan><tspan font-size="3.4" dy="-2.2">−/−</tspan></text>
<path d="M566.70,257.20 L566.70,255.00 L596.50,255.00 L596.50,257.20" fill="none" stroke="#777" stroke-width="0.8"/>
<text x="581.60" y="250.70" font-size="6.2" text-anchor="middle" fill="#333" stroke="#333" stroke-width="0.22"><tspan font-style="italic">P</tspan> = 0.077</text>
<path d="M637.30,257.20 L637.30,255.00 L667.10,255.00 L667.10,257.20" fill="none" stroke="#777" stroke-width="0.8"/>
<text x="652.20" y="250.70" font-size="6.2" text-anchor="middle" fill="#333" stroke="#333" stroke-width="0.22"><tspan font-style="italic">P</tspan> = 9.0 × 10<tspan dy="-2.36" font-size="4.22">−3</tspan></text>
<text x="1.00" y="400.80" font-size="12.5" font-weight="bold" fill="#111" stroke="#111" stroke-width="0.08">i</text>
<line x1="30.40" y1="412.00" x2="30.40" y2="503.70" stroke="#949494" stroke-width="0.9"/>
<line x1="28.80" y1="412.00" x2="30.40" y2="412.00" stroke="#949494" stroke-width="0.8"/>
<text x="26.10" y="414.30" font-size="6.4" text-anchor="end" fill="#5a5a5a" stroke="#5a5a5a" stroke-width="0.22">900</text>
<line x1="28.80" y1="442.57" x2="30.40" y2="442.57" stroke="#949494" stroke-width="0.8"/>
<text x="26.10" y="444.87" font-size="6.4" text-anchor="end" fill="#5a5a5a" stroke="#5a5a5a" stroke-width="0.22">600</text>
<line x1="28.80" y1="473.13" x2="30.40" y2="473.13" stroke="#949494" stroke-width="0.8"/>
<text x="26.10" y="475.44" font-size="6.4" text-anchor="end" fill="#5a5a5a" stroke="#5a5a5a" stroke-width="0.22">300</text>
<line x1="28.80" y1="503.70" x2="30.40" y2="503.70" stroke="#949494" stroke-width="0.8"/>
<text x="26.10" y="506.00" font-size="6.4" text-anchor="end" fill="#5a5a5a" stroke="#5a5a5a" stroke-width="0.22">0</text>
<line x1="30.40" y1="503.70" x2="98.40" y2="503.70" stroke="#949494" stroke-width="0.9"/>
<line x1="49.30" y1="503.70" x2="49.30" y2="505.30" stroke="#949494" stroke-width="0.8"/>
<line x1="79.20" y1="503.70" x2="79.20" y2="505.30" stroke="#949494" stroke-width="0.8"/>
<text x="5.00" y="457.80" font-size="6.2" text-anchor="middle" fill="#222" transform="rotate(-90 5.00 457.80)" stroke="#222" stroke-width="0.22">NREM sleep duration / day (min)</text>
<circle cx="49.30" cy="428.20" r="1.50" fill="none" stroke="#ee9dcb" stroke-width="0.9"/>
<circle cx="49.30" cy="439.40" r="1.50" fill="none" stroke="#ee9dcb" stroke-width="0.9"/>
<circle cx="49.30" cy="443.90" r="1.50" fill="none" stroke="#ee9dcb" stroke-width="0.9"/>
<circle cx="49.30" cy="446.90" r="1.50" fill="none" stroke="#ee9dcb" stroke-width="0.9"/>
<line x1="42.00" y1="441.80" x2="56.60" y2="441.80" stroke="#333" stroke-width="1.1"/>
<line x1="49.30" y1="439.40" x2="49.30" y2="444.30" stroke="#333" stroke-width="0.9900000000000001"/>
<line x1="46.90" y1="439.40" x2="51.70" y2="439.40" stroke="#333" stroke-width="0.9900000000000001"/>
<line x1="46.90" y1="444.30" x2="51.70" y2="444.30" stroke="#333" stroke-width="0.9900000000000001"/>
<circle cx="79.20" cy="414.40" r="1.50" fill="none" stroke="#c2338e" stroke-width="0.9"/>
<circle cx="79.20" cy="419.50" r="1.50" fill="none" stroke="#c2338e" stroke-width="0.9"/>
<circle cx="79.20" cy="422.50" r="1.50" fill="none" stroke="#c2338e" stroke-width="0.9"/>
<circle cx="79.20" cy="425.60" r="1.50" fill="none" stroke="#c2338e" stroke-width="0.9"/>
<circle cx="79.20" cy="427.60" r="1.50" fill="none" stroke="#c2338e" stroke-width="0.9"/>
<circle cx="79.20" cy="445.90" r="1.50" fill="none" stroke="#c2338e" stroke-width="0.9"/>
<line x1="71.90" y1="426.00" x2="86.50" y2="426.00" stroke="#333" stroke-width="1.1"/>
<line x1="79.20" y1="422.10" x2="79.20" y2="429.20" stroke="#333" stroke-width="0.9900000000000001"/>
<line x1="76.80" y1="422.10" x2="81.60" y2="422.10" stroke="#333" stroke-width="0.9900000000000001"/>
<line x1="76.80" y1="429.20" x2="81.60" y2="429.20" stroke="#333" stroke-width="0.9900000000000001"/>
<text x="49.30" y="512.90" font-size="6.4" text-anchor="middle" fill="#444" stroke="#444" stroke-width="0.22">WT</text>
<text x="79.20" y="512.90" font-size="6.4" text-anchor="middle" fill="#444" stroke="#444" stroke-width="0.22">T286D</text>
<path d="M49.30,408.10 L49.30,405.90 L79.20,405.90 L79.20,408.10" fill="none" stroke="#777" stroke-width="0.8"/>
<text x="64.25" y="402.30" font-size="6.2" text-anchor="middle" fill="#333" stroke="#333" stroke-width="0.22"><tspan font-style="italic">P</tspan> = 1.7 × 10<tspan dy="-2.36" font-size="4.22">−3</tspan></text>
<text x="132.60" y="400.60" font-size="12.5" font-weight="bold" fill="#111" stroke="#111" stroke-width="0.08">j</text>
<line x1="163.20" y1="412.00" x2="163.20" y2="503.70" stroke="#949494" stroke-width="0.9"/>
<line x1="161.60" y1="412.00" x2="163.20" y2="412.00" stroke="#949494" stroke-width="0.8"/>
<text x="158.90" y="414.30" font-size="6.4" text-anchor="end" fill="#5a5a5a" stroke="#5a5a5a" stroke-width="0.22">150</text>
<line x1="161.60" y1="442.57" x2="163.20" y2="442.57" stroke="#949494" stroke-width="0.8"/>
<text x="158.90" y="444.87" font-size="6.4" text-anchor="end" fill="#5a5a5a" stroke="#5a5a5a" stroke-width="0.22">100</text>
<line x1="161.60" y1="473.13" x2="163.20" y2="473.13" stroke="#949494" stroke-width="0.8"/>
<text x="158.90" y="475.44" font-size="6.4" text-anchor="end" fill="#5a5a5a" stroke="#5a5a5a" stroke-width="0.22">50</text>
<line x1="161.60" y1="503.70" x2="163.20" y2="503.70" stroke="#949494" stroke-width="0.8"/>
<text x="158.90" y="506.00" font-size="6.4" text-anchor="end" fill="#5a5a5a" stroke="#5a5a5a" stroke-width="0.22">0</text>
<line x1="163.20" y1="503.70" x2="230.00" y2="503.70" stroke="#949494" stroke-width="0.9"/>
<line x1="181.60" y1="503.70" x2="181.60" y2="505.30" stroke="#949494" stroke-width="0.8"/>
<line x1="212.50" y1="503.70" x2="212.50" y2="505.30" stroke="#949494" stroke-width="0.8"/>
<text x="138.20" y="457.80" font-size="6.2" text-anchor="middle" fill="#222" transform="rotate(-90 138.20 457.80)" stroke="#222" stroke-width="0.22">REM sleep duration / day (min)</text>
<circle cx="181.60" cy="422.50" r="1.50" fill="none" stroke="#ee9dcb" stroke-width="0.9"/>
<circle cx="181.60" cy="424.00" r="1.50" fill="none" stroke="#ee9dcb" stroke-width="0.9"/>
<circle cx="181.60" cy="425.60" r="1.50" fill="none" stroke="#ee9dcb" stroke-width="0.9"/>
<circle cx="181.60" cy="428.00" r="1.50" fill="none" stroke="#ee9dcb" stroke-width="0.9"/>
<circle cx="181.60" cy="431.30" r="1.50" fill="none" stroke="#ee9dcb" stroke-width="0.9"/>
<circle cx="181.60" cy="434.70" r="1.50" fill="none" stroke="#ee9dcb" stroke-width="0.9"/>
<circle cx="181.60" cy="443.90" r="1.50" fill="none" stroke="#ee9dcb" stroke-width="0.9"/>
<line x1="174.30" y1="430.10" x2="188.90" y2="430.10" stroke="#333" stroke-width="1.1"/>
<line x1="181.60" y1="427.20" x2="181.60" y2="432.70" stroke="#333" stroke-width="0.9900000000000001"/>
<line x1="179.20" y1="427.20" x2="184.00" y2="427.20" stroke="#333" stroke-width="0.9900000000000001"/>
<line x1="179.20" y1="432.70" x2="184.00" y2="432.70" stroke="#333" stroke-width="0.9900000000000001"/>
<circle cx="212.50" cy="419.10" r="1.50" fill="none" stroke="#c2338e" stroke-width="0.9"/>
<circle cx="212.50" cy="421.50" r="1.50" fill="none" stroke="#c2338e" stroke-width="0.9"/>
<circle cx="212.50" cy="423.60" r="1.50" fill="none" stroke="#c2338e" stroke-width="0.9"/>
<circle cx="212.50" cy="425.60" r="1.50" fill="none" stroke="#c2338e" stroke-width="0.9"/>
<circle cx="212.50" cy="427.60" r="1.50" fill="none" stroke="#c2338e" stroke-width="0.9"/>
<circle cx="212.50" cy="434.70" r="1.50" fill="none" stroke="#c2338e" stroke-width="0.9"/>
<circle cx="212.50" cy="437.40" r="1.50" fill="none" stroke="#c2338e" stroke-width="0.9"/>
<circle cx="212.50" cy="439.80" r="1.50" fill="none" stroke="#c2338e" stroke-width="0.9"/>
<line x1="205.20" y1="429.20" x2="219.80" y2="429.20" stroke="#333" stroke-width="1.1"/>
<line x1="212.50" y1="426.60" x2="212.50" y2="432.30" stroke="#333" stroke-width="0.9900000000000001"/>
<line x1="210.10" y1="426.60" x2="214.90" y2="426.60" stroke="#333" stroke-width="0.9900000000000001"/>
<line x1="210.10" y1="432.30" x2="214.90" y2="432.30" stroke="#333" stroke-width="0.9900000000000001"/>
<text x="181.60" y="512.90" font-size="6.4" text-anchor="middle" fill="#444" stroke="#444" stroke-width="0.22">WT</text>
<text x="212.50" y="512.90" font-size="6.4" text-anchor="middle" fill="#444" stroke="#444" stroke-width="0.22">T286D</text>
<path d="M181.60,407.50 L181.60,405.30 L212.50,405.30 L212.50,407.50" fill="none" stroke="#777" stroke-width="0.8"/>
<text x="197.05" y="401.60" font-size="6.2" text-anchor="middle" fill="#333" stroke="#333" stroke-width="0.22"><tspan font-style="italic">P</tspan> = 0.85</text>
<text x="269.00" y="401.80" font-size="12.5" font-weight="bold" fill="#111" stroke="#111" stroke-width="0.08">k</text>
<text x="327.80" y="434.20" font-size="13.0" text-anchor="middle" font-weight="bold" fill="#2a2f7c" stroke="#2a2f7c" stroke-width="0.08">W</text>
<text x="295.00" y="469.30" font-size="13.0" text-anchor="middle" font-weight="bold" fill="#e87a22" stroke="#e87a22" stroke-width="0.08">R</text>
<text x="362.00" y="469.30" font-size="13.0" text-anchor="middle" font-weight="bold" fill="#c8248c" stroke="#c8248c" stroke-width="0.08">N</text>
<path d="M321.5,421.0 A8.4,8.4 0 1 1 335.2,421.6" fill="none" stroke="#222" stroke-width="1.15"/>
<path d="M335.60,422.60 L335.34,419.10 L338.05,420.09 Z" fill="#222" stroke="none" stroke-width="0.8"/>
<path d="M289.0,476.0 A8.3,8.3 0 1 1 288.2,461.2" fill="none" stroke="#222" stroke-width="1.15"/>
<path d="M290.20,460.80 L286.80,461.66 L287.30,458.83 Z" fill="#222" stroke="none" stroke-width="0.8"/>
<path d="M369.45,461.23 A8.6,8.6 0 1 1 362.61,473.84" fill="none" stroke="#e8272e" stroke-width="1.25"/>
<path d="M361.73,470.99 L364.24,473.75 L361.33,474.70 Z" fill="#e8272e" stroke="none" stroke-width="0.8"/>
<path d="M382.90,472.10 L382.90,475.50 M384.37,472.95 L381.43,474.65 M384.37,474.65 L381.43,472.95 " fill="none" stroke="#222" stroke-width="0.8"/>
<path d="M381.20,475.60 L381.20,479.00 M382.67,476.45 L379.73,478.15 M382.67,478.15 L379.73,476.45 " fill="none" stroke="#222" stroke-width="0.8"/>
<line x1="339.30" y1="431.30" x2="359.80" y2="451.50" stroke="#222" stroke-width="1.15"/>
<path d="M361.20,452.90 L357.70,451.60 L359.85,449.42 Z" fill="#222" stroke="none" stroke-width="0.8"/>
<line x1="338.40" y1="435.30" x2="357.90" y2="454.60" stroke="#222" stroke-width="1.15"/>
<path d="M336.80,433.70 L340.30,435.00 L338.15,437.18 Z" fill="#222" stroke="none" stroke-width="0.8"/>
<line x1="298.50" y1="456.50" x2="318.50" y2="436.00" stroke="#666" stroke-width="0.9" stroke-dasharray="0.9 1.4"/>
<path d="M320.30,434.20 L319.25,437.08 L317.44,435.32 Z" fill="#777" stroke="none" stroke-width="0.8"/>
<text x="304.80" y="447.60" font-size="9" text-anchor="middle" fill="#333" stroke="#333" stroke-width="0.22">*</text>
<line x1="351.50" y1="462.30" x2="305.00" y2="462.30" stroke="#666" stroke-width="0.9" stroke-dasharray="0.9 1.4"/>
<path d="M303.00,462.30 L305.80,461.04 L305.80,463.56 Z" fill="#777" stroke="none" stroke-width="0.8"/>
<text x="327.40" y="462.20" font-size="9" text-anchor="middle" fill="#333" stroke="#333" stroke-width="0.22">**</text>
<line x1="304.60" y1="466.40" x2="350.00" y2="466.40" stroke="#222" stroke-width="1.15"/>
<path d="M352.80,466.40 L349.40,467.93 L349.40,464.87 Z" fill="#222" stroke="none" stroke-width="0.8"/>
<rect x="270.40" y="484.40" width="115.80" height="18.10" fill="#fff" stroke="#8a8a8a" stroke-width="0.7"/>
<text x="298.00" y="492.00" font-size="6.2" text-anchor="middle" font-weight="bold" fill="#e8272e" stroke="#e8272e" stroke-width="0.08">Increased</text>
<line x1="283.40" y1="493.70" x2="314.40" y2="493.70" stroke="#e8272e" stroke-width="1.3"/>
<text x="355.80" y="492.00" font-size="6.2" text-anchor="middle" font-weight="bold" fill="#9a9a9a" stroke="#9a9a9a" stroke-width="0.08">Decreased</text>
<line x1="340.80" y1="493.70" x2="371.60" y2="493.70" stroke="#8a8a8a" stroke-width="1.0" stroke-dasharray="0.9 0.7"/>
<text x="298.00" y="500.60" font-size="6.2" text-anchor="middle" font-weight="bold" fill="#222" stroke="#222" stroke-width="0.08"><tspan fill="#f2a7d2">WT</tspan> &lt; <tspan fill="#c2288a">T286D</tspan></text>
<text x="355.80" y="500.60" font-size="6.2" text-anchor="middle" font-weight="bold" fill="#222" stroke="#222" stroke-width="0.08"><tspan fill="#f2a7d2">WT</tspan> &gt; <tspan fill="#c2288a">T286D</tspan></text>
<text x="425.00" y="401.40" font-size="12.5" font-weight="bold" fill="#111" stroke="#111" stroke-width="0.08">l</text>
<line x1="451.30" y1="412.70" x2="451.30" y2="504.30" stroke="#949494" stroke-width="0.9"/>
<line x1="449.70" y1="412.70" x2="451.30" y2="412.70" stroke="#949494" stroke-width="0.8"/>
<text x="447.00" y="415.00" font-size="6.4" text-anchor="end" fill="#5a5a5a" stroke="#5a5a5a" stroke-width="0.22">10</text>
<line x1="449.70" y1="431.02" x2="451.30" y2="431.02" stroke="#949494" stroke-width="0.8"/>
<text x="447.00" y="433.32" font-size="6.4" text-anchor="end" fill="#5a5a5a" stroke="#5a5a5a" stroke-width="0.22">8</text>
<line x1="449.70" y1="449.34" x2="451.30" y2="449.34" stroke="#949494" stroke-width="0.8"/>
<text x="447.00" y="451.64" font-size="6.4" text-anchor="end" fill="#5a5a5a" stroke="#5a5a5a" stroke-width="0.22">6</text>
<line x1="449.70" y1="467.66" x2="451.30" y2="467.66" stroke="#949494" stroke-width="0.8"/>
<text x="447.00" y="469.96" font-size="6.4" text-anchor="end" fill="#5a5a5a" stroke="#5a5a5a" stroke-width="0.22">4</text>
<line x1="449.70" y1="485.98" x2="451.30" y2="485.98" stroke="#949494" stroke-width="0.8"/>
<text x="447.00" y="488.28" font-size="6.4" text-anchor="end" fill="#5a5a5a" stroke="#5a5a5a" stroke-width="0.22">2</text>
<line x1="449.70" y1="504.30" x2="451.30" y2="504.30" stroke="#949494" stroke-width="0.8"/>
<text x="447.00" y="506.60" font-size="6.4" text-anchor="end" fill="#5a5a5a" stroke="#5a5a5a" stroke-width="0.22">0</text>
<line x1="451.30" y1="504.30" x2="545.80" y2="504.30" stroke="#949494" stroke-width="0.9"/>
<line x1="451.30" y1="504.30" x2="451.30" y2="505.90" stroke="#949494" stroke-width="0.8"/>
<line x1="470.20" y1="504.30" x2="470.20" y2="505.90" stroke="#949494" stroke-width="0.8"/>
<line x1="489.10" y1="504.30" x2="489.10" y2="505.90" stroke="#949494" stroke-width="0.8"/>
<line x1="508.00" y1="504.30" x2="508.00" y2="505.90" stroke="#949494" stroke-width="0.8"/>
<line x1="526.90" y1="504.30" x2="526.90" y2="505.90" stroke="#949494" stroke-width="0.8"/>
<line x1="545.80" y1="504.30" x2="545.80" y2="505.90" stroke="#949494" stroke-width="0.8"/>
<text x="451.30" y="513.20" font-size="6.4" text-anchor="middle" fill="#444" stroke="#444" stroke-width="0.22">0</text>
<text x="470.20" y="513.20" font-size="6.4" text-anchor="middle" fill="#444" stroke="#444" stroke-width="0.22">10</text>
<text x="489.10" y="513.20" font-size="6.4" text-anchor="middle" fill="#444" stroke="#444" stroke-width="0.22">20</text>
<text x="508.00" y="513.20" font-size="6.4" text-anchor="middle" fill="#444" stroke="#444" stroke-width="0.22">30</text>
<text x="526.90" y="513.20" font-size="6.4" text-anchor="middle" fill="#444" stroke="#444" stroke-width="0.22">40</text>
<text x="545.80" y="513.20" font-size="6.4" text-anchor="middle" fill="#444" stroke="#444" stroke-width="0.22">50</text>
<text x="497.50" y="525.70" font-size="6.0" text-anchor="middle" font-weight="bold" fill="#222" stroke="#222" stroke-width="0.08">Frequency (Hz)</text>
<text x="430.60" y="458.50" font-size="6.2" text-anchor="middle" fill="#222" transform="rotate(-90 430.60 458.50)" stroke="#222" stroke-width="0.22">PSD /day (%) in NREM</text>
<rect x="451.30" y="412.70" width="18.90" height="91.60" fill="none" stroke="#e8272e" stroke-width="0.6" stroke-dasharray="1 1"/>
<polyline points="451.30,498.80 451.77,479.57 452.25,460.33 452.72,453.08 453.19,445.83 453.66,443.20 454.13,443.66 454.61,445.22 455.08,447.51 455.55,449.52 456.03,450.44 456.50,451.40 456.97,452.55 457.44,454.18 457.92,456.14 458.39,458.11 458.86,461.38 459.33,464.98 459.81,468.58 460.28,472.87 460.75,477.16 461.22,481.46 461.69,483.23 462.17,484.38 462.64,485.52 463.11,486.67 463.59,487.23 464.06,487.65 464.53,488.06 465.00,488.48 465.48,489.08 465.95,489.96 466.42,490.84 466.89,491.72 467.37,492.60 467.84,493.45 468.31,494.15 468.78,494.86 469.25,495.56 469.73,496.27 470.20,496.97 470.67,497.32 471.14,497.66 471.62,498.00 472.09,498.35 472.56,498.69 473.04,499.03 473.51,499.38 473.98,499.72 474.45,499.87 474.93,500.03 475.40,500.18 475.87,500.33 476.34,500.48 476.81,500.64 477.29,500.79 477.76,500.94 478.23,501.09 478.70,501.25 479.18,501.40 479.65,501.55 480.12,501.62 480.60,501.69 481.07,501.76 481.54,501.83 482.01,501.90 482.49,501.96 482.96,502.03 483.43,502.10 483.90,502.17 484.38,502.24 484.85,502.31 485.32,502.38 485.79,502.45 486.26,502.51 486.74,502.58 487.21,502.65 487.68,502.72 488.16,502.79 488.63,502.86 489.10,502.93 489.57,502.95 490.05,502.97 490.52,502.99 490.99,503.02 491.46,503.04 491.94,503.06 492.41,503.09 492.88,503.11 493.35,503.13 493.82,503.16 494.30,503.18 494.77,503.20 495.24,503.22 495.72,503.25 496.19,503.27 496.66,503.29 497.13,503.32 497.61,503.34 498.08,503.36 498.55,503.38 499.02,503.39 499.50,503.40 499.97,503.41 500.44,503.42 500.91,503.43 501.38,503.44 501.86,503.45 502.33,503.46 502.80,503.47 503.27,503.48 503.75,503.48 504.22,503.49 504.69,503.50 505.17,503.51 505.64,503.52 506.11,503.53 506.58,503.54 507.06,503.55 507.53,503.56 508.00,503.57 508.47,503.57 508.94,503.58 509.42,503.59 509.89,503.59 510.36,503.60 510.84,503.61 511.31,503.62 511.78,503.62 512.25,503.63 512.73,503.64 513.20,503.64 513.67,503.65 514.14,503.66 514.62,503.66 515.09,503.67 515.56,503.68 516.03,503.68 516.50,503.69 516.98,503.70 517.45,503.70 517.92,503.71 518.39,503.72 518.87,503.73 519.34,503.73 519.81,503.74 520.28,503.75 520.76,503.75 521.23,503.76 521.70,503.77 522.17,503.77 522.65,503.78 523.12,503.79 523.59,503.79 524.07,503.80 524.54,503.81 525.01,503.81 525.48,503.82 525.96,503.83 526.43,503.84 526.90,503.84 527.37,503.84 527.85,503.85 528.32,503.85 528.79,503.85 529.26,503.85 529.74,503.86 530.21,503.86 530.68,503.86 531.15,503.86 531.62,503.86 532.10,503.87 532.57,503.87 533.04,503.87 533.51,503.87 533.99,503.88 534.46,503.88 534.93,503.88 535.40,503.88 535.88,503.89 536.35,503.89 536.82,503.89 537.29,503.89 537.77,503.89 538.24,503.90 538.71,503.90 539.18,503.90 539.66,503.90 540.13,503.91 540.60,503.91 541.08,503.91 541.55,503.91 542.02,503.92 542.49,503.92 542.97,503.92 543.44,503.92 543.91,503.92 544.38,503.93 544.86,503.93 545.33,503.93 545.80,503.93" fill="none" stroke="#ecb0d6" stroke-width="1.8" stroke-linejoin="round" stroke-linecap="round" stroke-opacity="0.8"/>
<polyline points="451.30,498.80 451.77,476.36 452.25,453.92 452.72,444.00 453.19,434.07 453.66,432.30 454.13,435.97 454.61,440.18 455.08,444.76 455.55,449.16 456.03,452.82 456.50,456.21 456.97,458.50 457.44,460.00 457.92,460.99 458.39,461.97 458.86,464.26 459.33,466.87 459.81,469.49 460.28,474.07 460.75,478.65 461.22,483.23 461.69,485.06 462.17,486.21 462.64,487.35 463.11,488.50 463.59,488.89 464.06,489.10 464.53,489.31 465.00,489.52 465.48,490.00 465.95,490.88 466.42,491.76 466.89,492.64 467.37,493.52 467.84,494.33 468.31,494.86 468.78,495.39 469.25,495.92 469.73,496.44 470.20,496.97 470.67,497.32 471.14,497.66 471.62,498.00 472.09,498.35 472.56,498.69 473.04,499.03 473.51,499.38 473.98,499.72 474.45,499.87 474.93,500.03 475.40,500.18 475.87,500.33 476.34,500.48 476.81,500.64 477.29,500.79 477.76,500.94 478.23,501.09 478.70,501.25 479.18,501.40 479.65,501.55 480.12,501.62 480.60,501.69 481.07,501.76 481.54,501.83 482.01,501.90 482.49,501.96 482.96,502.03 483.43,502.10 483.90,502.17 484.38,502.24 484.85,502.31 485.32,502.38 485.79,502.45 486.26,502.51 486.74,502.58 487.21,502.65 487.68,502.72 488.16,502.79 488.63,502.86 489.10,502.93 489.57,502.95 490.05,502.97 490.52,502.99 490.99,503.02 491.46,503.04 491.94,503.06 492.41,503.09 492.88,503.11 493.35,503.13 493.82,503.16 494.30,503.18 494.77,503.20 495.24,503.22 495.72,503.25 496.19,503.27 496.66,503.29 497.13,503.32 497.61,503.34 498.08,503.36 498.55,503.38 499.02,503.39 499.50,503.40 499.97,503.41 500.44,503.42 500.91,503.43 501.38,503.44 501.86,503.45 502.33,503.46 502.80,503.47 503.27,503.48 503.75,503.48 504.22,503.49 504.69,503.50 505.17,503.51 505.64,503.52 506.11,503.53 506.58,503.54 507.06,503.55 507.53,503.56 508.00,503.57 508.47,503.57 508.94,503.58 509.42,503.59 509.89,503.59 510.36,503.60 510.84,503.61 511.31,503.62 511.78,503.62 512.25,503.63 512.73,503.64 513.20,503.64 513.67,503.65 514.14,503.66 514.62,503.66 515.09,503.67 515.56,503.68 516.03,503.68 516.50,503.69 516.98,503.70 517.45,503.70 517.92,503.71 518.39,503.72 518.87,503.73 519.34,503.73 519.81,503.74 520.28,503.75 520.76,503.75 521.23,503.76 521.70,503.77 522.17,503.77 522.65,503.78 523.12,503.79 523.59,503.79 524.07,503.80 524.54,503.81 525.01,503.81 525.48,503.82 525.96,503.83 526.43,503.84 526.90,503.84 527.37,503.84 527.85,503.85 528.32,503.85 528.79,503.85 529.26,503.85 529.74,503.86 530.21,503.86 530.68,503.86 531.15,503.86 531.62,503.86 532.10,503.87 532.57,503.87 533.04,503.87 533.51,503.87 533.99,503.88 534.46,503.88 534.93,503.88 535.40,503.88 535.88,503.89 536.35,503.89 536.82,503.89 537.29,503.89 537.77,503.89 538.24,503.90 538.71,503.90 539.18,503.90 539.66,503.90 540.13,503.91 540.60,503.91 541.08,503.91 541.55,503.91 542.02,503.92 542.49,503.92 542.97,503.92 543.44,503.92 543.91,503.92 544.38,503.93 544.86,503.93 545.33,503.93 545.80,503.93" fill="none" stroke="#c43c8f" stroke-width="0.9" stroke-linejoin="round" stroke-linecap="round"/>
<line x1="496.40" y1="412.70" x2="496.40" y2="481.00" stroke="#949494" stroke-width="0.9"/>
<line x1="496.40" y1="481.00" x2="545.00" y2="481.00" stroke="#949494" stroke-width="0.9"/>
<line x1="495.00" y1="481.00" x2="496.40" y2="481.00" stroke="#949494" stroke-width="0.6"/>
<line x1="495.00" y1="467.34" x2="496.40" y2="467.34" stroke="#949494" stroke-width="0.6"/>
<line x1="495.00" y1="453.68" x2="496.40" y2="453.68" stroke="#949494" stroke-width="0.6"/>
<line x1="495.00" y1="440.02" x2="496.40" y2="440.02" stroke="#949494" stroke-width="0.6"/>
<line x1="495.00" y1="426.36" x2="496.40" y2="426.36" stroke="#949494" stroke-width="0.6"/>
<line x1="495.00" y1="412.70" x2="496.40" y2="412.70" stroke="#949494" stroke-width="0.6"/>
<line x1="496.40" y1="481.00" x2="496.40" y2="482.40" stroke="#949494" stroke-width="0.6"/>
<line x1="501.26" y1="481.00" x2="501.26" y2="482.40" stroke="#949494" stroke-width="0.6"/>
<line x1="506.12" y1="481.00" x2="506.12" y2="482.40" stroke="#949494" stroke-width="0.6"/>
<line x1="510.98" y1="481.00" x2="510.98" y2="482.40" stroke="#949494" stroke-width="0.6"/>
<line x1="515.84" y1="481.00" x2="515.84" y2="482.40" stroke="#949494" stroke-width="0.6"/>
<line x1="520.70" y1="481.00" x2="520.70" y2="482.40" stroke="#949494" stroke-width="0.6"/>
<line x1="525.56" y1="481.00" x2="525.56" y2="482.40" stroke="#949494" stroke-width="0.6"/>
<line x1="530.42" y1="481.00" x2="530.42" y2="482.40" stroke="#949494" stroke-width="0.6"/>
<line x1="535.28" y1="481.00" x2="535.28" y2="482.40" stroke="#949494" stroke-width="0.6"/>
<line x1="540.14" y1="481.00" x2="540.14" y2="482.40" stroke="#949494" stroke-width="0.6"/>
<line x1="545.00" y1="481.00" x2="545.00" y2="482.40" stroke="#949494" stroke-width="0.6"/>
<text x="492.10" y="414.90" font-size="6.4" text-anchor="end" fill="#444" stroke="#444" stroke-width="0.22">10</text>
<text x="492.10" y="483.20" font-size="6.4" text-anchor="end" fill="#444" stroke="#444" stroke-width="0.22">0</text>
<text x="496.40" y="490.80" font-size="6.4" text-anchor="middle" fill="#444" stroke="#444" stroke-width="0.22">0</text>
<text x="545.00" y="490.80" font-size="6.4" text-anchor="middle" fill="#444" stroke="#444" stroke-width="0.22">10</text>
<polyline points="496.40,476.90 496.89,471.16 497.37,465.43 497.86,459.69 498.34,453.95 498.83,448.22 499.32,446.05 499.80,443.89 500.29,441.73 500.77,439.56 501.26,437.40 501.75,435.24 502.23,435.38 502.72,435.51 503.20,435.65 503.69,435.79 504.18,435.92 504.66,436.61 505.15,437.29 505.63,437.97 506.12,438.65 506.61,439.34 507.09,440.02 507.58,440.29 508.06,440.57 508.55,440.84 509.04,441.11 509.52,441.39 510.01,441.73 510.49,442.07 510.98,442.41 511.47,442.75 511.95,443.34 512.44,443.92 512.92,444.51 513.41,445.09 513.90,445.68 514.38,446.26 514.87,446.85 515.35,447.92 515.84,449.00 516.33,450.07 516.81,451.14 517.30,452.22 517.78,453.29 518.27,454.36 518.76,455.64 519.24,456.92 519.73,458.20 520.21,459.49 520.70,460.77 521.19,462.05 521.67,463.33 522.16,464.61 522.64,464.95 523.13,465.29 523.62,465.63 524.10,465.97 524.59,466.32 525.07,466.66 525.56,467.00 526.05,467.34 526.53,467.68 527.02,468.02 527.50,468.15 527.99,468.27 528.48,468.40 528.96,468.52 529.45,468.64 529.93,468.77 530.42,468.89 530.91,469.02 531.39,469.14 531.88,469.26 532.36,469.39 532.85,469.65 533.34,469.91 533.82,470.18 534.31,470.44 534.79,470.70 535.28,470.97 535.77,471.23 536.25,471.49 536.74,471.75 537.22,472.02 537.71,472.28 538.20,472.54 538.68,472.80 539.17,473.01 539.65,473.22 540.14,473.43 540.63,473.64 541.11,473.85 541.60,474.06 542.08,474.28 542.57,474.49 543.06,474.70 543.54,474.91 544.03,475.12 544.51,475.33 545.00,475.54" fill="none" stroke="#ecb0d6" stroke-width="2.0" stroke-linejoin="round" stroke-linecap="round" stroke-opacity="0.85"/>
<polyline points="496.40,476.90 496.89,470.21 497.37,463.52 497.86,456.82 498.34,450.13 498.83,443.44 499.32,440.48 499.80,437.52 500.29,434.56 500.77,431.60 501.26,428.64 501.75,425.68 502.23,426.77 502.72,427.86 503.20,428.96 503.69,430.05 504.18,431.14 504.66,432.51 505.15,433.87 505.63,435.24 506.12,436.61 506.61,437.97 507.09,439.34 507.58,440.43 508.06,441.52 508.55,442.62 509.04,443.71 509.52,444.80 510.01,445.48 510.49,446.17 510.98,446.85 511.47,447.53 511.95,447.83 512.44,448.12 512.92,448.41 513.41,448.70 513.90,449.00 514.38,449.29 514.87,449.58 515.35,450.36 515.84,451.14 516.33,451.92 516.81,452.70 517.30,453.48 517.78,454.27 518.27,455.05 518.76,456.41 519.24,457.78 519.73,459.14 520.21,460.51 520.70,461.88 521.19,463.24 521.67,464.61 522.16,465.97 522.64,466.32 523.13,466.66 523.62,467.00 524.10,467.34 524.59,467.68 525.07,468.02 525.56,468.36 526.05,468.71 526.53,469.05 527.02,469.39 527.50,469.45 527.99,469.51 528.48,469.58 528.96,469.64 529.45,469.70 529.93,469.76 530.42,469.82 530.91,469.89 531.39,469.95 531.88,470.01 532.36,470.07 532.85,470.33 533.34,470.60 533.82,470.86 534.31,471.12 534.79,471.39 535.28,471.65 535.77,471.91 536.25,472.17 536.74,472.44 537.22,472.70 537.71,472.96 538.20,473.22 538.68,473.49 539.17,473.64 539.65,473.80 540.14,473.96 540.63,474.12 541.11,474.28 541.60,474.43 542.08,474.59 542.57,474.75 543.06,474.91 543.54,475.06 544.03,475.22 544.51,475.38 545.00,475.54" fill="none" stroke="#c43c8f" stroke-width="1.0" stroke-linejoin="round" stroke-linecap="round"/>
<text x="547.60" y="404.20" font-size="6.3" text-anchor="end" font-weight="bold" fill="#f0a8d4" stroke="#f0a8d4" stroke-width="0.08">CaMKIIα(WT)</text>
<text x="547.60" y="410.70" font-size="6.3" text-anchor="end" font-weight="bold" fill="#c22a8b" stroke="#c22a8b" stroke-width="0.08">CaMKIIα(T286D)</text>
<text x="586.20" y="402.00" font-size="12.5" font-weight="bold" fill="#111" stroke="#111" stroke-width="0.08">m</text>
<line x1="613.60" y1="412.40" x2="613.60" y2="504.30" stroke="#949494" stroke-width="0.9"/>
<line x1="612.00" y1="412.40" x2="613.60" y2="412.40" stroke="#949494" stroke-width="0.8"/>
<text x="609.30" y="414.70" font-size="6.4" text-anchor="end" fill="#5a5a5a" stroke="#5a5a5a" stroke-width="0.22">20</text>
<line x1="612.00" y1="435.38" x2="613.60" y2="435.38" stroke="#949494" stroke-width="0.8"/>
<text x="609.30" y="437.68" font-size="6.4" text-anchor="end" fill="#5a5a5a" stroke="#5a5a5a" stroke-width="0.22">15</text>
<line x1="612.00" y1="458.35" x2="613.60" y2="458.35" stroke="#949494" stroke-width="0.8"/>
<text x="609.30" y="460.65" font-size="6.4" text-anchor="end" fill="#5a5a5a" stroke="#5a5a5a" stroke-width="0.22">10</text>
<line x1="612.00" y1="481.32" x2="613.60" y2="481.32" stroke="#949494" stroke-width="0.8"/>
<text x="609.30" y="483.63" font-size="6.4" text-anchor="end" fill="#5a5a5a" stroke="#5a5a5a" stroke-width="0.22">5</text>
<line x1="612.00" y1="504.30" x2="613.60" y2="504.30" stroke="#949494" stroke-width="0.8"/>
<text x="609.30" y="506.60" font-size="6.4" text-anchor="end" fill="#5a5a5a" stroke="#5a5a5a" stroke-width="0.22">0</text>
<line x1="613.60" y1="504.30" x2="684.60" y2="504.30" stroke="#949494" stroke-width="0.9"/>
<line x1="633.90" y1="504.30" x2="633.90" y2="505.90" stroke="#949494" stroke-width="0.8"/>
<line x1="665.70" y1="504.30" x2="665.70" y2="505.90" stroke="#949494" stroke-width="0.8"/>
<text x="593.80" y="459.10" font-size="6.2" text-anchor="middle" fill="#222" transform="rotate(-90 593.80 459.10)" stroke="#222" stroke-width="0.22">SO <tspan font-style="italic">power / day</tspan> (%) in NREM</text>
<circle cx="633.90" cy="435.30" r="1.50" fill="none" stroke="#ee9dcb" stroke-width="0.9"/>
<circle cx="633.90" cy="455.00" r="1.50" fill="none" stroke="#ee9dcb" stroke-width="0.9"/>
<circle cx="633.90" cy="459.10" r="1.50" fill="none" stroke="#ee9dcb" stroke-width="0.9"/>
<circle cx="633.90" cy="461.70" r="1.50" fill="none" stroke="#ee9dcb" stroke-width="0.9"/>
<circle cx="633.90" cy="468.20" r="1.50" fill="none" stroke="#ee9dcb" stroke-width="0.9"/>
<line x1="626.60" y1="457.50" x2="641.20" y2="457.50" stroke="#333" stroke-width="1.1"/>
<line x1="633.90" y1="454.40" x2="633.90" y2="461.10" stroke="#333" stroke-width="0.9900000000000001"/>
<line x1="631.50" y1="454.40" x2="636.30" y2="454.40" stroke="#333" stroke-width="0.9900000000000001"/>
<line x1="631.50" y1="461.10" x2="636.30" y2="461.10" stroke="#333" stroke-width="0.9900000000000001"/>
<circle cx="665.70" cy="432.70" r="1.50" fill="none" stroke="#c2338e" stroke-width="0.9"/>
<circle cx="665.70" cy="434.70" r="1.50" fill="none" stroke="#c2338e" stroke-width="0.9"/>
<circle cx="665.70" cy="443.90" r="1.50" fill="none" stroke="#c2338e" stroke-width="0.9"/>
<circle cx="665.70" cy="446.90" r="1.50" fill="none" stroke="#c2338e" stroke-width="0.9"/>
<circle cx="665.70" cy="451.00" r="1.50" fill="none" stroke="#c2338e" stroke-width="0.9"/>
<circle cx="665.70" cy="458.10" r="1.50" fill="none" stroke="#c2338e" stroke-width="0.9"/>
<line x1="658.40" y1="446.30" x2="673.00" y2="446.30" stroke="#333" stroke-width="1.1"/>
<line x1="665.70" y1="443.50" x2="665.70" y2="450.00" stroke="#333" stroke-width="0.9900000000000001"/>
<line x1="663.30" y1="443.50" x2="668.10" y2="443.50" stroke="#333" stroke-width="0.9900000000000001"/>
<line x1="663.30" y1="450.00" x2="668.10" y2="450.00" stroke="#333" stroke-width="0.9900000000000001"/>
<text x="633.90" y="512.90" font-size="6.4" text-anchor="middle" fill="#444" stroke="#444" stroke-width="0.22">WT</text>
<text x="665.70" y="512.90" font-size="6.4" text-anchor="middle" fill="#444" stroke="#444" stroke-width="0.22">T286D</text>
<path d="M633.90,411.20 L633.90,409.00 L665.70,409.00 L665.70,411.20" fill="none" stroke="#777" stroke-width="0.8"/>
<text x="649.80" y="405.30" font-size="6.2" text-anchor="middle" fill="#333" stroke="#333" stroke-width="0.22"><tspan font-style="italic">P</tspan> = 0.032</text>
<text x="-0.40" y="553.00" font-size="12.5" font-weight="bold" fill="#111" stroke="#111" stroke-width="0.08">n</text>
<text x="50.30" y="563.60" font-size="6.3" text-anchor="middle" font-weight="bold" font-style="italic" fill="#e8202a" stroke="#e8202a" stroke-width="0.08">Pvalb-2A-Cre</text>
<g transform="translate(65.00,555.00) scale(0.08757)">
<path d="M515,246 C552,262 592,288 600,312 C606,336 590,352 556,352 C510,352 460,340 410,328 C370,320 330,318 292,324" fill="none" stroke="#5a3327" stroke-width="20" stroke-linecap="round"/>
<path d="M515,246 C552,262 592,288 600,312 C606,336 590,352 556,352 C510,352 460,340 410,328 C370,320 330,318 292,324" fill="none" stroke="#e8866c" stroke-width="10" stroke-dasharray="12 10"/>
<path d="M470,266 C455,280 430,287 392,290 L384,300 L440,300 C462,292 478,282 490,268 Z" fill="#e8866c" stroke="#5a3327" stroke-width="8"/>
<path d="M58,155 C80,134 118,118 150,108 L186,90 L201,78 L212,88 L216,110 C262,113 330,103 400,121 C450,134 490,163 505,198 C512,218 518,236 520,246 C508,262 488,271 468,269 C440,275 420,282 395,283 C350,284 300,284 262,278 C240,274 222,270 208,266 L200,282 L196,296 L134,298 L128,288 L180,283 L186,258 C165,248 140,232 118,218 C95,203 70,185 58,155 Z" fill="#e8866c" stroke="#5a3327" stroke-width="9"/>
</g>
<text x="69.80" y="594.90" font-size="6.3" text-anchor="middle" font-style="italic" fill="#222" stroke="#222" stroke-width="0.22">loxP lox2272</text>
<line x1="24.50" y1="604.80" x2="139.30" y2="604.80" stroke="#222" stroke-width="0.9"/>
<path d="M27.90,601.00 L52.40,601.00 L56.40,605.00 L52.40,609.00 L27.90,609.00 Z" fill="#8fd17c" stroke="#333" stroke-width="0.6"/>
<text x="41.15" y="607.27" font-size="6.3" text-anchor="middle" fill="#222" stroke="#222" stroke-width="0.12">E11(PV)</text>
<path d="M58.90,599.80 L64.20,605.00 L58.90,610.20 Z" fill="#e3c614" stroke="#333" stroke-width="0.6"/>
<path d="M65.50,599.80 L70.80,605.00 L65.50,610.20 Z" fill="#fff" stroke="#333" stroke-width="0.6"/>
<path d="M77.80,601.00 L122.20,601.00 L122.20,609.00 L77.80,609.00 L73.80,605.00 Z" fill="#f3a6c8" stroke="#333" stroke-width="0.6"/>
<g transform="translate(198.00,0) scale(-1,1)">
<text x="99.00" y="607.27" font-size="6.3" text-anchor="middle" fill="#222" stroke="#222" stroke-width="0.12">FLAG-<tspan font-style="italic">Camk2a</tspan></text>
</g>
<path d="M128.80,599.80 L123.60,605.00 L128.80,610.20 Z" fill="#e3c614" stroke="#333" stroke-width="0.6"/>
<path d="M135.40,599.80 L130.20,605.00 L135.40,610.20 Z" fill="#fff" stroke="#333" stroke-width="0.6"/>
<line x1="82.90" y1="616.60" x2="82.90" y2="624.50" stroke="#111" stroke-width="0.8"/>
<path d="M82.9,626.2 L81.5,623.0 L84.3,623.0 Z" fill="#111" stroke="none" stroke-width="0.8"/>
<text x="88.00" y="623.20" font-size="6.3" fill="#222" stroke="#222" stroke-width="0.22">+Cre</text>
<line x1="24.50" y1="639.30" x2="139.30" y2="639.30" stroke="#222" stroke-width="0.9"/>
<path d="M27.90,635.30 L52.40,635.30 L56.40,639.35 L52.40,643.40 L27.90,643.40 Z" fill="#8fd17c" stroke="#333" stroke-width="0.6"/>
<text x="41.15" y="641.62" font-size="6.3" text-anchor="middle" fill="#222" stroke="#222" stroke-width="0.12">E11(PV)</text>
<path d="M65.90,635.30 L71.50,639.35 L65.90,643.40 Z" fill="#e3c614" stroke="#333" stroke-width="0.6"/>
<path d="M72.50,635.30 L117.30,635.30 L121.30,639.35 L117.30,643.40 L72.50,643.40 Z" fill="#f3a6c8" stroke="#333" stroke-width="0.6"/>
<text x="95.90" y="641.62" font-size="6.3" text-anchor="middle" fill="#222" stroke="#222" stroke-width="0.12">FLAG-<tspan font-style="italic">Camk2a</tspan></text>
<path d="M128.50,635.30 L122.80,639.35 L128.50,643.40 Z" fill="#fff" stroke="#333" stroke-width="0.6"/>
<path d="M72.8,635.3 L72.8,631.7 L89.5,631.7" fill="none" stroke="#111" stroke-width="0.8"/>
<path d="M92.2,631.7 L88.8,630.3 L88.8,633.1 Z" fill="#111" stroke="none" stroke-width="0.8"/>
<text x="172.80" y="553.20" font-size="12.5" font-weight="bold" fill="#111" stroke="#111" stroke-width="0.08">o</text>
<line x1="208.50" y1="564.10" x2="208.50" y2="655.10" stroke="#949494" stroke-width="0.9"/>
<line x1="206.90" y1="564.10" x2="208.50" y2="564.10" stroke="#949494" stroke-width="0.8"/>
<text x="204.20" y="566.40" font-size="6.4" text-anchor="end" fill="#5a5a5a" stroke="#5a5a5a" stroke-width="0.22">1000</text>
<line x1="206.90" y1="582.30" x2="208.50" y2="582.30" stroke="#949494" stroke-width="0.8"/>
<text x="204.20" y="584.60" font-size="6.4" text-anchor="end" fill="#5a5a5a" stroke="#5a5a5a" stroke-width="0.22">800</text>
<line x1="206.90" y1="600.50" x2="208.50" y2="600.50" stroke="#949494" stroke-width="0.8"/>
<text x="204.20" y="602.80" font-size="6.4" text-anchor="end" fill="#5a5a5a" stroke="#5a5a5a" stroke-width="0.22">600</text>
<line x1="206.90" y1="618.70" x2="208.50" y2="618.70" stroke="#949494" stroke-width="0.8"/>
<text x="204.20" y="621.00" font-size="6.4" text-anchor="end" fill="#5a5a5a" stroke="#5a5a5a" stroke-width="0.22">400</text>
<line x1="206.90" y1="636.90" x2="208.50" y2="636.90" stroke="#949494" stroke-width="0.8"/>
<text x="204.20" y="639.20" font-size="6.4" text-anchor="end" fill="#5a5a5a" stroke="#5a5a5a" stroke-width="0.22">200</text>
<line x1="206.90" y1="655.10" x2="208.50" y2="655.10" stroke="#949494" stroke-width="0.8"/>
<text x="204.20" y="657.40" font-size="6.4" text-anchor="end" fill="#5a5a5a" stroke="#5a5a5a" stroke-width="0.22">0</text>
<line x1="208.50" y1="655.10" x2="272.50" y2="655.10" stroke="#949494" stroke-width="0.9"/>
<line x1="225.80" y1="655.10" x2="225.80" y2="656.70" stroke="#949494" stroke-width="0.8"/>
<line x1="254.60" y1="655.10" x2="254.60" y2="656.70" stroke="#949494" stroke-width="0.8"/>
<text x="179.00" y="609.60" font-size="6.2" text-anchor="middle" fill="#222" transform="rotate(-90 179.00 609.60)" stroke="#222" stroke-width="0.22">Sleep duration / day (min)</text>
<circle cx="225.80" cy="582.30" r="1.30" fill="#f2a7d2" stroke="none" stroke-width="0.6"/>
<circle cx="225.80" cy="584.50" r="1.30" fill="#f2a7d2" stroke="none" stroke-width="0.6"/>
<circle cx="225.80" cy="586.00" r="1.30" fill="#f2a7d2" stroke="none" stroke-width="0.6"/>
<circle cx="225.80" cy="588.50" r="1.30" fill="#f2a7d2" stroke="none" stroke-width="0.6"/>
<circle cx="225.80" cy="590.50" r="1.30" fill="#f2a7d2" stroke="none" stroke-width="0.6"/>
<circle cx="225.80" cy="593.00" r="1.30" fill="#f2a7d2" stroke="none" stroke-width="0.6"/>
<circle cx="225.80" cy="596.00" r="1.30" fill="#f2a7d2" stroke="none" stroke-width="0.6"/>
<line x1="218.50" y1="586.50" x2="233.10" y2="586.50" stroke="#333" stroke-width="1.1"/>
<line x1="225.80" y1="585.50" x2="225.80" y2="587.50" stroke="#333" stroke-width="0.9900000000000001"/>
<line x1="223.40" y1="585.50" x2="228.20" y2="585.50" stroke="#333" stroke-width="0.9900000000000001"/>
<line x1="223.40" y1="587.50" x2="228.20" y2="587.50" stroke="#333" stroke-width="0.9900000000000001"/>
<circle cx="254.60" cy="571.60" r="1.30" fill="#c22a8b" stroke="none" stroke-width="0.6"/>
<circle cx="254.60" cy="573.50" r="1.30" fill="#c22a8b" stroke="none" stroke-width="0.6"/>
<circle cx="254.60" cy="575.50" r="1.30" fill="#c22a8b" stroke="none" stroke-width="0.6"/>
<circle cx="254.60" cy="577.50" r="1.30" fill="#c22a8b" stroke="none" stroke-width="0.6"/>
<circle cx="254.60" cy="579.00" r="1.30" fill="#c22a8b" stroke="none" stroke-width="0.6"/>
<circle cx="254.60" cy="580.50" r="1.30" fill="#c22a8b" stroke="none" stroke-width="0.6"/>
<circle cx="254.60" cy="582.00" r="1.30" fill="#c22a8b" stroke="none" stroke-width="0.6"/>
<circle cx="254.60" cy="584.00" r="1.30" fill="#c22a8b" stroke="none" stroke-width="0.6"/>
<circle cx="254.60" cy="587.00" r="1.30" fill="#c22a8b" stroke="none" stroke-width="0.6"/>
<line x1="247.30" y1="579.50" x2="261.90" y2="579.50" stroke="#333" stroke-width="1.1"/>
<line x1="254.60" y1="578.50" x2="254.60" y2="580.50" stroke="#333" stroke-width="0.9900000000000001"/>
<line x1="252.20" y1="578.50" x2="257.00" y2="578.50" stroke="#333" stroke-width="0.9900000000000001"/>
<line x1="252.20" y1="580.50" x2="257.00" y2="580.50" stroke="#333" stroke-width="0.9900000000000001"/>
<text x="225.80" y="664.10" font-size="6.4" text-anchor="middle" fill="#444" stroke="#444" stroke-width="0.22">WT</text>
<text x="254.60" y="664.10" font-size="6.4" text-anchor="middle" fill="#444" stroke="#444" stroke-width="0.22">T286D</text>
<path d="M225.80,560.40 L225.80,558.20 L254.60,558.20 L254.60,560.40" fill="none" stroke="#777" stroke-width="0.8"/>
<text x="240.20" y="555.00" font-size="6.2" text-anchor="middle" fill="#333" stroke="#333" stroke-width="0.22"><tspan font-style="italic">P</tspan> = 6.6 × 10<tspan dy="-2.36" font-size="4.22">−4</tspan></text>
<text x="309.90" y="554.10" font-size="12.5" font-weight="bold" fill="#111" stroke="#111" stroke-width="0.08">p</text>
<line x1="343.60" y1="564.10" x2="343.60" y2="655.10" stroke="#949494" stroke-width="0.9"/>
<line x1="342.00" y1="564.10" x2="343.60" y2="564.10" stroke="#949494" stroke-width="0.8"/>
<text x="339.30" y="566.40" font-size="6.4" text-anchor="end" fill="#5a5a5a" stroke="#5a5a5a" stroke-width="0.22">0.06</text>
<line x1="342.00" y1="594.43" x2="343.60" y2="594.43" stroke="#949494" stroke-width="0.8"/>
<text x="339.30" y="596.74" font-size="6.4" text-anchor="end" fill="#5a5a5a" stroke="#5a5a5a" stroke-width="0.22">0.04</text>
<line x1="342.00" y1="624.77" x2="343.60" y2="624.77" stroke="#949494" stroke-width="0.8"/>
<text x="339.30" y="627.07" font-size="6.4" text-anchor="end" fill="#5a5a5a" stroke="#5a5a5a" stroke-width="0.22">0.02</text>
<line x1="342.00" y1="655.10" x2="343.60" y2="655.10" stroke="#949494" stroke-width="0.8"/>
<text x="339.30" y="657.40" font-size="6.4" text-anchor="end" fill="#5a5a5a" stroke="#5a5a5a" stroke-width="0.22">0.00</text>
<line x1="343.60" y1="655.10" x2="408.70" y2="655.10" stroke="#949494" stroke-width="0.9"/>
<line x1="361.10" y1="655.10" x2="361.10" y2="656.70" stroke="#949494" stroke-width="0.8"/>
<line x1="391.20" y1="655.10" x2="391.20" y2="656.70" stroke="#949494" stroke-width="0.8"/>
<text x="318.50" y="609.60" font-size="6.7" text-anchor="middle" fill="#222" transform="rotate(-90 318.50 609.60)" stroke="#222" stroke-width="0.22"><tspan font-style="italic">P</tspan><tspan font-size="4.6" dy="1.6">ws</tspan><tspan dy="-1.6"> / day</tspan></text>
<circle cx="361.10" cy="585.70" r="1.30" fill="#f2a7d2" stroke="none" stroke-width="0.6"/>
<circle cx="361.10" cy="588.00" r="1.30" fill="#f2a7d2" stroke="none" stroke-width="0.6"/>
<circle cx="361.10" cy="593.60" r="1.30" fill="#f2a7d2" stroke="none" stroke-width="0.6"/>
<circle cx="361.10" cy="596.40" r="1.30" fill="#f2a7d2" stroke="none" stroke-width="0.6"/>
<circle cx="361.10" cy="600.20" r="1.30" fill="#f2a7d2" stroke="none" stroke-width="0.6"/>
<circle cx="361.10" cy="603.00" r="1.30" fill="#f2a7d2" stroke="none" stroke-width="0.6"/>
<circle cx="361.10" cy="605.80" r="1.30" fill="#f2a7d2" stroke="none" stroke-width="0.6"/>
<circle cx="361.10" cy="613.30" r="1.30" fill="#f2a7d2" stroke="none" stroke-width="0.6"/>
<line x1="353.80" y1="600.60" x2="368.40" y2="600.60" stroke="#333" stroke-width="1.1"/>
<line x1="361.10" y1="597.40" x2="361.10" y2="602.40" stroke="#333" stroke-width="0.9900000000000001"/>
<line x1="358.70" y1="597.40" x2="363.50" y2="597.40" stroke="#333" stroke-width="0.9900000000000001"/>
<line x1="358.70" y1="602.40" x2="363.50" y2="602.40" stroke="#333" stroke-width="0.9900000000000001"/>
<circle cx="391.20" cy="567.30" r="1.30" fill="#c22a8b" stroke="none" stroke-width="0.6"/>
<circle cx="391.20" cy="577.00" r="1.30" fill="#c22a8b" stroke="none" stroke-width="0.6"/>
<circle cx="391.20" cy="580.40" r="1.30" fill="#c22a8b" stroke="none" stroke-width="0.6"/>
<circle cx="391.20" cy="583.30" r="1.30" fill="#c22a8b" stroke="none" stroke-width="0.6"/>
<circle cx="391.20" cy="586.10" r="1.30" fill="#c22a8b" stroke="none" stroke-width="0.6"/>
<circle cx="391.20" cy="588.90" r="1.30" fill="#c22a8b" stroke="none" stroke-width="0.6"/>
<circle cx="391.20" cy="592.70" r="1.30" fill="#c22a8b" stroke="none" stroke-width="0.6"/>
<circle cx="391.20" cy="596.40" r="1.30" fill="#c22a8b" stroke="none" stroke-width="0.6"/>
<circle cx="391.20" cy="597.90" r="1.30" fill="#c22a8b" stroke="none" stroke-width="0.6"/>
<line x1="383.90" y1="586.50" x2="398.50" y2="586.50" stroke="#333" stroke-width="1.1"/>
<line x1="391.20" y1="584.20" x2="391.20" y2="589.30" stroke="#333" stroke-width="0.9900000000000001"/>
<line x1="388.80" y1="584.20" x2="393.60" y2="584.20" stroke="#333" stroke-width="0.9900000000000001"/>
<line x1="388.80" y1="589.30" x2="393.60" y2="589.30" stroke="#333" stroke-width="0.9900000000000001"/>
<text x="361.10" y="664.10" font-size="6.4" text-anchor="middle" fill="#444" stroke="#444" stroke-width="0.22">WT</text>
<text x="391.20" y="664.10" font-size="6.4" text-anchor="middle" fill="#444" stroke="#444" stroke-width="0.22">T286D</text>
<path d="M361.10,560.10 L361.10,557.90 L391.20,557.90 L391.20,560.10" fill="none" stroke="#777" stroke-width="0.8"/>
<text x="376.15" y="554.70" font-size="6.2" text-anchor="middle" fill="#333" stroke="#333" stroke-width="0.22"><tspan font-style="italic">P</tspan> = 1.0 × 10<tspan dy="-2.36" font-size="4.22">−3</tspan></text>
<text x="444.60" y="554.10" font-size="12.5" font-weight="bold" fill="#111" stroke="#111" stroke-width="0.08">q</text>
<line x1="478.50" y1="564.10" x2="478.50" y2="655.10" stroke="#949494" stroke-width="0.9"/>
<line x1="476.90" y1="564.10" x2="478.50" y2="564.10" stroke="#949494" stroke-width="0.8"/>
<text x="474.20" y="566.40" font-size="6.4" text-anchor="end" fill="#5a5a5a" stroke="#5a5a5a" stroke-width="0.22">0.06</text>
<line x1="476.90" y1="594.43" x2="478.50" y2="594.43" stroke="#949494" stroke-width="0.8"/>
<text x="474.20" y="596.74" font-size="6.4" text-anchor="end" fill="#5a5a5a" stroke="#5a5a5a" stroke-width="0.22">0.04</text>
<line x1="476.90" y1="624.77" x2="478.50" y2="624.77" stroke="#949494" stroke-width="0.8"/>
<text x="474.20" y="627.07" font-size="6.4" text-anchor="end" fill="#5a5a5a" stroke="#5a5a5a" stroke-width="0.22">0.02</text>
<line x1="476.90" y1="655.10" x2="478.50" y2="655.10" stroke="#949494" stroke-width="0.8"/>
<text x="474.20" y="657.40" font-size="6.4" text-anchor="end" fill="#5a5a5a" stroke="#5a5a5a" stroke-width="0.22">0.00</text>
<line x1="478.50" y1="655.10" x2="542.80" y2="655.10" stroke="#949494" stroke-width="0.9"/>
<line x1="495.80" y1="655.10" x2="495.80" y2="656.70" stroke="#949494" stroke-width="0.8"/>
<line x1="525.90" y1="655.10" x2="525.90" y2="656.70" stroke="#949494" stroke-width="0.8"/>
<text x="453.50" y="609.60" font-size="6.7" text-anchor="middle" fill="#222" transform="rotate(-90 453.50 609.60)" stroke="#222" stroke-width="0.22"><tspan font-style="italic">P</tspan><tspan font-size="4.6" dy="1.6">sw</tspan><tspan dy="-1.6"> / day</tspan></text>
<circle cx="495.80" cy="582.90" r="1.30" fill="#f2a7d2" stroke="none" stroke-width="0.6"/>
<circle cx="495.80" cy="595.90" r="1.30" fill="#f2a7d2" stroke="none" stroke-width="0.6"/>
<circle cx="495.80" cy="598.30" r="1.30" fill="#f2a7d2" stroke="none" stroke-width="0.6"/>
<circle cx="495.80" cy="602.10" r="1.30" fill="#f2a7d2" stroke="none" stroke-width="0.6"/>
<circle cx="495.80" cy="606.80" r="1.30" fill="#f2a7d2" stroke="none" stroke-width="0.6"/>
<circle cx="495.80" cy="610.50" r="1.30" fill="#f2a7d2" stroke="none" stroke-width="0.6"/>
<circle cx="495.80" cy="615.20" r="1.30" fill="#f2a7d2" stroke="none" stroke-width="0.6"/>
<circle cx="495.80" cy="618.60" r="1.30" fill="#f2a7d2" stroke="none" stroke-width="0.6"/>
<line x1="488.50" y1="604.50" x2="503.10" y2="604.50" stroke="#333" stroke-width="1.1"/>
<line x1="495.80" y1="601.10" x2="495.80" y2="607.30" stroke="#333" stroke-width="0.9900000000000001"/>
<line x1="493.40" y1="601.10" x2="498.20" y2="601.10" stroke="#333" stroke-width="0.9900000000000001"/>
<line x1="493.40" y1="607.30" x2="498.20" y2="607.30" stroke="#333" stroke-width="0.9900000000000001"/>
<circle cx="525.90" cy="597.40" r="1.30" fill="#c22a8b" stroke="none" stroke-width="0.6"/>
<circle cx="525.90" cy="599.50" r="1.30" fill="#c22a8b" stroke="none" stroke-width="0.6"/>
<circle cx="525.90" cy="601.50" r="1.30" fill="#c22a8b" stroke="none" stroke-width="0.6"/>
<circle cx="525.90" cy="603.50" r="1.30" fill="#c22a8b" stroke="none" stroke-width="0.6"/>
<circle cx="525.90" cy="605.50" r="1.30" fill="#c22a8b" stroke="none" stroke-width="0.6"/>
<circle cx="525.90" cy="607.50" r="1.30" fill="#c22a8b" stroke="none" stroke-width="0.6"/>
<circle cx="525.90" cy="609.50" r="1.30" fill="#c22a8b" stroke="none" stroke-width="0.6"/>
<circle cx="525.90" cy="611.50" r="1.30" fill="#c22a8b" stroke="none" stroke-width="0.6"/>
<circle cx="525.90" cy="613.30" r="1.30" fill="#c22a8b" stroke="none" stroke-width="0.6"/>
<line x1="518.60" y1="605.30" x2="533.20" y2="605.30" stroke="#333" stroke-width="1.1"/>
<line x1="525.90" y1="602.90" x2="525.90" y2="607.50" stroke="#333" stroke-width="0.9900000000000001"/>
<line x1="523.50" y1="602.90" x2="528.30" y2="602.90" stroke="#333" stroke-width="0.9900000000000001"/>
<line x1="523.50" y1="607.50" x2="528.30" y2="607.50" stroke="#333" stroke-width="0.9900000000000001"/>
<text x="495.80" y="664.10" font-size="6.4" text-anchor="middle" fill="#444" stroke="#444" stroke-width="0.22">WT</text>
<text x="525.90" y="664.10" font-size="6.4" text-anchor="middle" fill="#444" stroke="#444" stroke-width="0.22">T286D</text>
<path d="M495.80,560.20 L495.80,558.00 L525.90,558.00 L525.90,560.20" fill="none" stroke="#777" stroke-width="0.8"/>
<text x="510.85" y="554.80" font-size="6.2" text-anchor="middle" fill="#333" stroke="#333" stroke-width="0.22"><tspan font-style="italic">P</tspan> = 0.85</text>
</svg>
</body></html>
